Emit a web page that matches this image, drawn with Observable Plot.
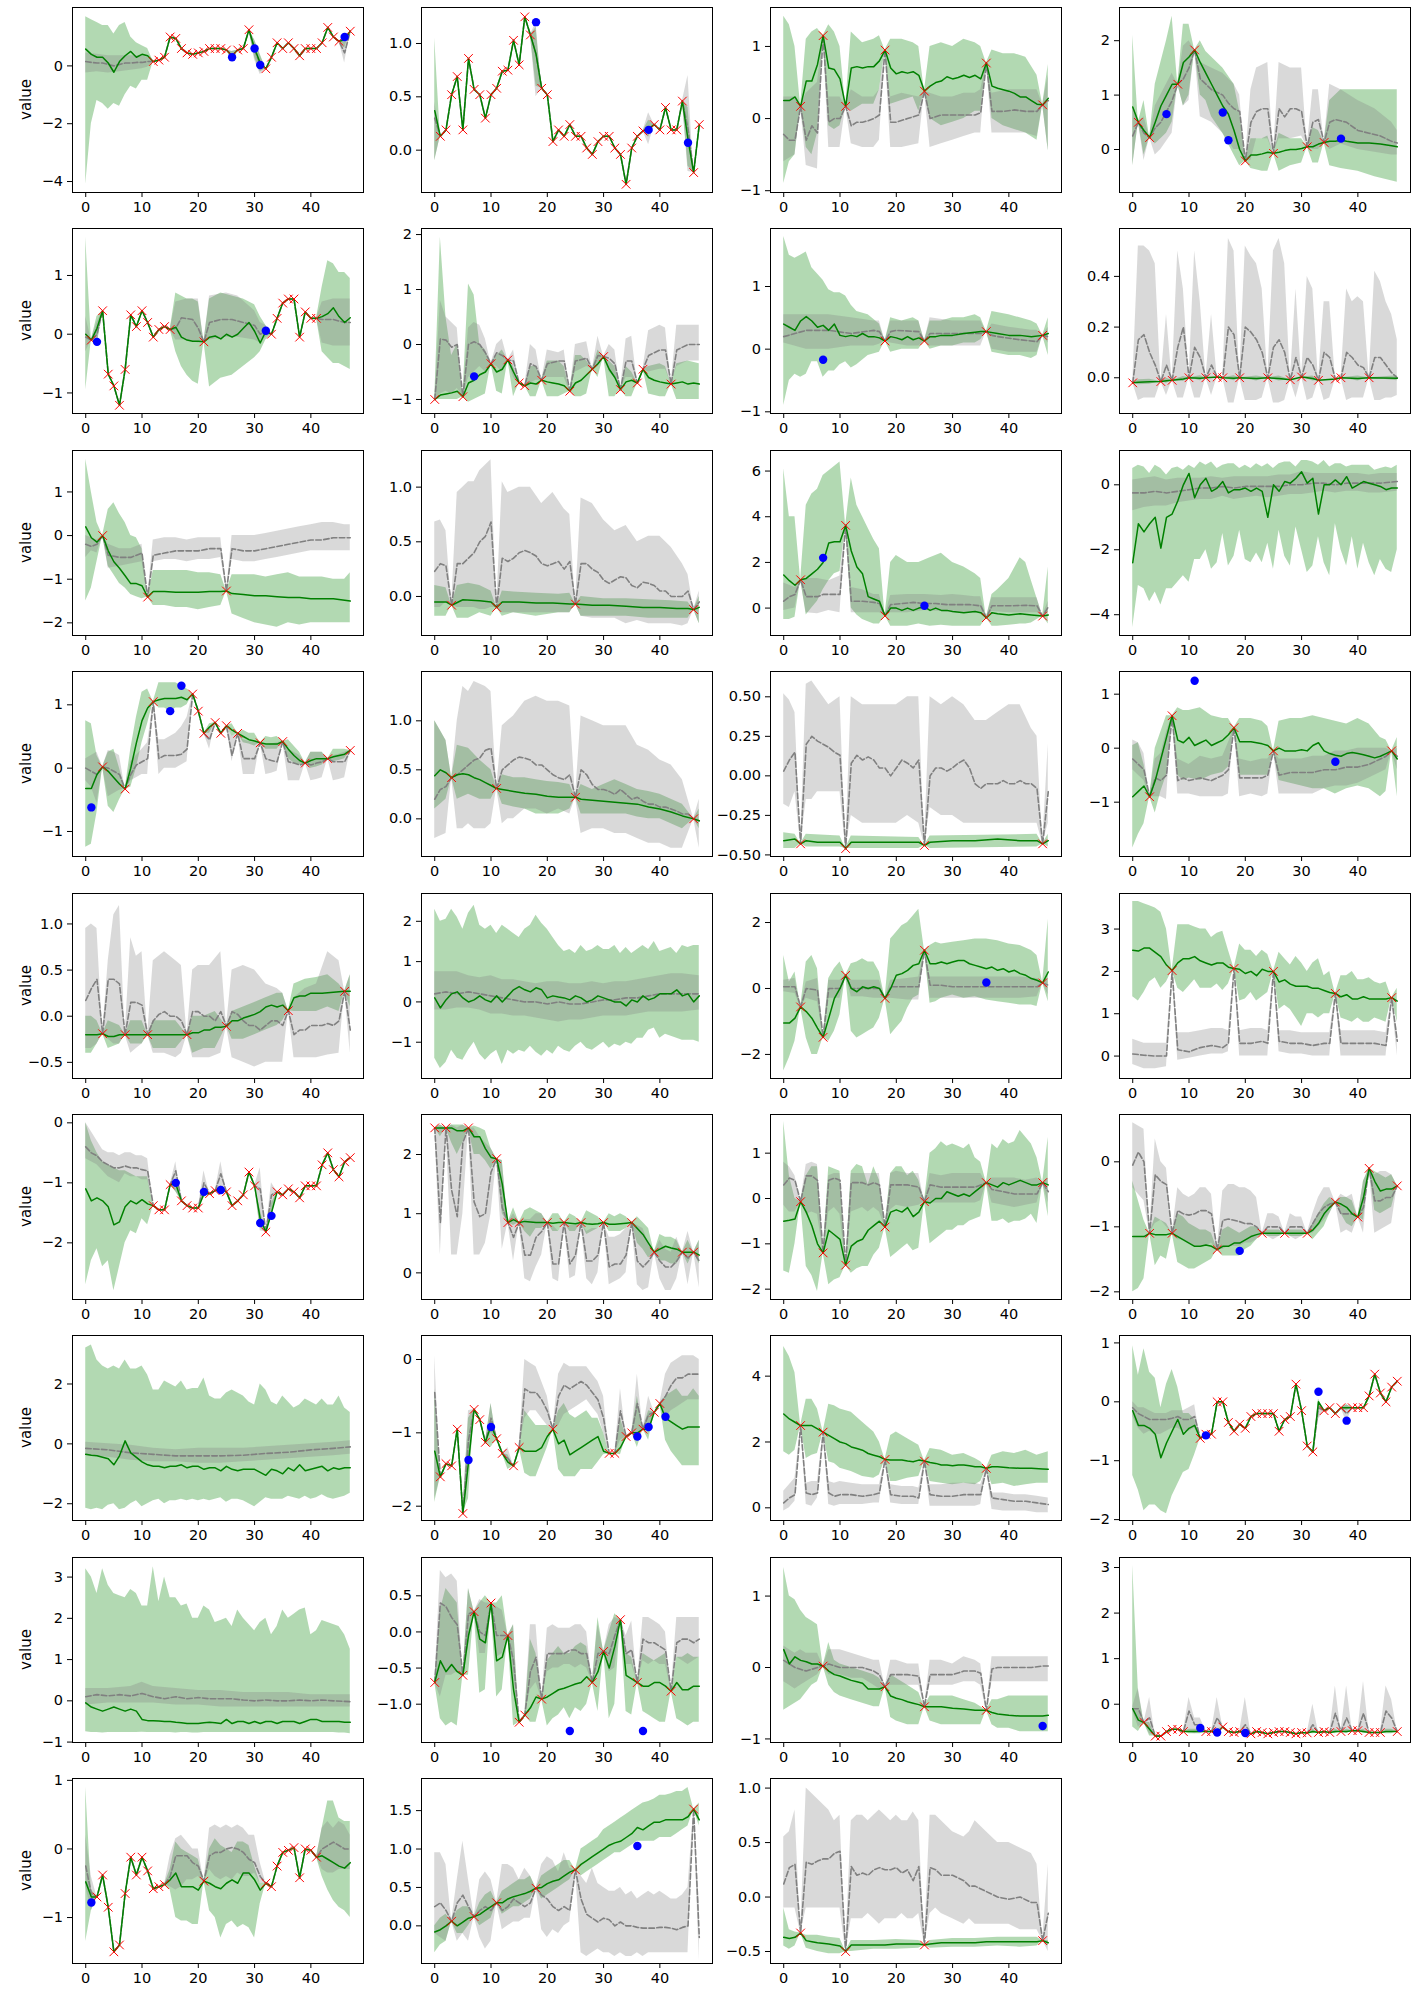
<!DOCTYPE html>
<html><head><meta charset="utf-8">
<script src="https://cdn.jsdelivr.net/npm/d3@7"></script>
<script src="https://cdn.jsdelivr.net/npm/@observablehq/plot@0.6"></script>
<style>
body{margin:0;background:#fff;}
#fig{position:relative;width:1418px;height:1993px;background:#fff;}
</style>
</head><body><div id="fig"></div>
<script>
// ---------- DATA ----------
const yDomains = [
 [-4.38,2.02],[-0.397,1.3375],[-1.025,1.54],[-0.79,2.61],
 [-1.35,1.80],[-1.255,2.11],[-1.027,1.926],[-0.141,0.589],
 [-2.29,1.95],[-0.357,1.335],[-1.2,6.9],[-4.64,1.056],
 [-1.395,1.526],[-0.384,1.503],[-0.51,0.66],[-2.006,1.42],
 [-0.675,1.33],[-1.90,2.69],[-2.73,2.88],[-0.53,3.84],
 [-2.944,0.139],[-0.45,2.676],[-2.228,1.853],[-2.118,0.728],
 [-2.56,3.62],[-2.195,0.327],[-0.385,5.235],[-2.015,1.126],
 [-1.01,3.475],[-1.53,1.03],[-1.05,1.54],[-0.84,3.22],
 [-1.67,1.027],[-0.49,1.918],[-0.61,1.088]
];
const yTicks = [
 [-4,-2,0],[0,0.5,1],[-1,0,1],[0,1,2],
 [-1,0,1],[-1,0,1,2],[-1,0,1],[0,0.2,0.4],
 [-2,-1,0,1],[0,0.5,1],[0,2,4,6],[-4,-2,0],
 [-1,0,1],[0,0.5,1],[-0.5,-0.25,0,0.25,0.5],[-1,0,1],
 [-0.5,0,0.5,1],[-1,0,1,2],[-2,0,2],[0,1,2,3],
 [-2,-1,0],[0,1,2],[-2,-1,0,1],[-2,-1,0],
 [-2,0,2],[-2,-1,0],[0,2,4],[-2,-1,0,1],
 [-1,0,1,2,3],[-1,-0.5,0,0.5],[-1,0,1],[0,1,2,3],
 [-1,0,1],[0,0.5,1,1.5],[-0.5,0,0.5,1]
];
const yDecimals = [0,1,0,0, 0,0,0,1, 0,1,0,0, 0,1,2,0, 1,0,0,0, 0,0,0,0, 0,0,0,0, 0,1,0,0, 0,1,1];

// observed points (red x)
const observed = [
 [[12,0.15],[13,0.2],[14,0.3],[15,1.0],[16,0.95],[17,0.6],[18,0.45],[19,0.4],[20,0.45],[21,0.5],[22,0.6],[23,0.6],[24,0.6],[25,0.55],[27,0.55],[28,0.6],[29,1.25],[32,-0.1],[33,0.3],[34,0.8],[35,0.6],[36,0.8],[37,0.6],[38,0.35],[39,0.6],[40,0.6],[41,0.6],[42,0.8],[43,1.33],[44,1.0],[45,0.85],[47,1.2]],
 [[1,0.13],[2,0.19],[3,0.52],[4,0.69],[5,0.19],[6,0.86],[7,0.57],[8,0.52],[9,0.3],[10,0.52],[11,0.58],[12,0.74],[13,0.75],[14,1.03],[15,0.8],[16,1.25],[17,1.08],[19,0.58],[20,0.52],[21,0.08],[22,0.19],[23,0.13],[24,0.24],[25,0.13],[26,0.13],[27,0.02],[28,-0.04],[29,0.08],[30,0.13],[31,0.13],[32,0.02],[33,-0.04],[34,-0.32],[35,0.02],[36,0.13],[37,0.18],[39,0.24],[40,0.19],[41,0.4],[42,0.19],[43,0.19],[44,0.46],[46,-0.21],[47,0.24]],
 [[3,0.17],[7,1.15],[11,0.17],[18,0.95],[25,0.38],[36,0.77],[46,0.19]],
 [[1,0.5],[3,0.22],[8,1.2],[11,1.83],[20,-0.21],[25,-0.07],[31,0.05],[34,0.13]],
 [[1,-0.1],[3,0.4],[4,-0.68],[5,-0.88],[6,-1.21],[7,-0.6],[8,0.33],[9,0.13],[10,0.4],[11,0.2],[12,-0.05],[13,0.08],[14,0.13],[15,0.08],[21,-0.13],[33,0.0],[34,0.27],[35,0.53],[36,0.6],[37,0.6],[38,-0.05],[39,0.38],[40,0.27],[41,0.27]],
 [[0,-1.0],[5,-0.95],[10,-0.35],[13,-0.28],[15,-0.7],[16,-0.75],[19,-0.65],[24,-0.85],[28,-0.45],[30,-0.22],[33,-0.82],[36,-0.7],[37,-0.45],[42,-0.72]],
 [[18,0.13],[25,0.13],[36,0.28],[46,0.22]],
 [[0,-0.02],[5,-0.015],[7,-0.01],[10,0.0],[13,0.0],[15,0.003],[16,0.0],[19,0.0],[24,0.0],[28,-0.008],[30,0.003],[33,-0.01],[36,-0.005],[37,0.0],[42,0.0]],
 [[3,0.0],[11,-1.41],[25,-1.27]],
 [[3,-0.08],[11,-0.1],[25,-0.07],[46,-0.12]],
 [[3,1.24],[11,3.62],[18,-0.34],[36,-0.42],[46,-0.35]],
 [],
 [[3,0.02],[7,-0.33],[12,1.05],[19,1.17],[20,0.9],[21,0.55],[23,0.72],[24,0.55],[25,0.67],[27,0.55],[31,0.4],[35,0.42],[39,0.08],[43,0.15],[47,0.28]],
 [[3,0.42],[11,0.31],[25,0.22],[46,0.0]],
 [[3,-0.43],[11,-0.46],[25,-0.44],[46,-0.43]],
 [[3,-0.9],[7,0.6],[18,0.38],[25,-0.05],[46,-0.05]],
 [[3,-0.19],[7,-0.2],[11,-0.2],[18,-0.2],[25,-0.11],[36,0.06],[46,0.27]],
 [],
 [[3,-0.56],[7,-1.48],[11,0.4],[18,-0.3],[25,1.16],[46,0.17]],
 [[7,2.02],[18,2.07],[25,2.0],[36,1.48],[46,1.38]],
 [[12,-1.38],[13,-1.45],[14,-1.45],[15,-1.03],[17,-1.3],[18,-1.38],[19,-1.42],[20,-1.42],[22,-1.18],[23,-1.13],[25,-1.15],[26,-1.38],[27,-1.3],[28,-1.2],[29,-0.82],[30,-1.05],[32,-1.82],[34,-1.15],[35,-1.2],[36,-1.1],[37,-1.15],[38,-1.25],[39,-1.05],[40,-1.05],[41,-1.05],[42,-0.7],[43,-0.5],[44,-0.78],[45,-0.9],[46,-0.65],[47,-0.58]],
 [[0,2.45],[2,2.45],[6,2.45],[11,1.93],[13,0.85],[15,0.85],[20,0.85],[23,0.85],[26,0.85],[30,0.85],[35,0.85],[39,0.35],[44,0.35],[46,0.35]],
 [[3,-0.07],[7,-1.2],[11,-1.47],[18,-0.63],[25,-0.07],[36,0.35],[46,0.35]],
 [[3,-1.1],[7,-1.1],[15,-1.35],[23,-1.1],[27,-1.1],[31,-1.1],[36,-0.62],[40,-0.85],[42,-0.1],[47,-0.37]],
 [],
 [[1,-1.6],[2,-1.42],[3,-1.45],[4,-0.95],[5,-2.1],[7,-0.68],[8,-0.82],[9,-1.13],[11,-1.08],[12,-1.28],[14,-1.45],[15,-1.2],[21,-0.95],[31,-1.28],[32,-1.28],[34,-1.05],[35,-1.0],[37,-0.95],[39,-0.72],[40,-0.6]],
 [[3,2.5],[7,2.3],[18,1.47],[25,1.42],[36,1.2]],
 [[12,-0.62],[13,-0.55],[14,-0.55],[15,0.0],[16,0.0],[17,-0.35],[18,-0.5],[19,-0.38],[20,-0.45],[21,-0.25],[22,-0.2],[23,-0.2],[24,-0.2],[25,-0.2],[26,-0.5],[27,-0.3],[28,-0.25],[29,0.3],[30,-0.15],[31,-0.75],[32,-0.85],[34,-0.15],[35,-0.1],[36,-0.2],[37,-0.1],[39,-0.1],[40,-0.1],[41,-0.1],[42,0.1],[43,0.47],[44,0.15],[45,0.0],[46,0.25],[47,0.35]],
 [],
 [[0,-0.7],[5,-0.6],[7,0.28],[10,0.4],[13,-0.05],[15,-1.25],[16,-1.15],[19,-0.93],[28,-0.7],[30,-0.27],[33,0.17],[36,-0.7],[42,-0.82]],
 [[7,0.02],[18,-0.27],[25,-0.55],[36,-0.6]],
 [[2,-0.4],[4,-0.7],[5,-0.7],[6,-0.6],[7,-0.55],[8,-0.55],[9,-0.6],[13,-0.6],[14,-0.6],[16,-0.5],[17,-0.6],[18,-0.62],[19,-0.6],[21,-0.65],[22,-0.6],[23,-0.62],[24,-0.65],[25,-0.62],[26,-0.6],[27,-0.6],[28,-0.62],[29,-0.65],[30,-0.62],[31,-0.63],[33,-0.62],[34,-0.6],[35,-0.62],[37,-0.6],[39,-0.58],[40,-0.58],[42,-0.62],[43,-0.62],[44,-0.62],[47,-0.6]],
 [[2,-0.7],[3,-0.38],[4,-0.85],[5,-1.5],[6,-1.4],[7,-0.65],[8,-0.12],[9,-0.38],[10,-0.12],[11,-0.32],[12,-0.58],[13,-0.55],[14,-0.52],[21,-0.47],[32,-0.5],[33,-0.55],[34,-0.25],[35,-0.05],[36,-0.02],[37,0.02],[38,-0.42],[39,0.0],[40,-0.02],[41,-0.12]],
 [[3,0.06],[7,0.12],[11,0.3],[18,0.49],[25,0.73],[46,1.52]],
 [[3,-0.33],[11,-0.5],[25,-0.44],[46,-0.4]]
];

// held-out points (blue dots)
const heldOut = [
 [[26,0.3],[30,0.6],[31,0.03],[46,1.0]],[[18,1.2],[38,0.19],[45,0.07]],[],[[6,0.65],[16,0.68],[17,0.17],[37,0.2]],
 [[2,-0.13],[32,0.06]],[[7,-0.58]],[[7,-0.17]],[],
 [],[],[[7,2.2],[25,0.1]],[],
 [[1,-0.62],[15,0.9],[17,1.3]],[],[],[[11,1.25],[36,-0.25]],
 [],[],[[36,0.18]],[],
 [[16,-1.0],[21,-1.15],[24,-1.12],[31,-1.67],[33,-1.55]],[],[],[[19,-1.37]],
 [],[[6,-1.37],[10,-0.92],[36,-1.05],[38,-0.92],[41,-0.78]],[],[[13,-0.57],[33,0.17],[38,-0.32]],
 [],[[24,-1.37],[37,-1.37]],[[46,-0.82]],[[12,-0.52],[15,-0.62],[20,-0.63]],
 [[1,-0.78]],[[36,1.04]],[]
];

// green median (solid line) at unobserved steps; a plain list means one value per step 0..47
const greenMedian = [
 [[0,0.58],[1,0.4],[2,0.3],[3,0.3],[4,0.1],[5,-0.22],[6,0.15],[7,0.35],[8,0.5],[9,0.3],[10,0.4],[11,0.35],[26,0.35],[30,0.6],[31,0.1],[46,0.9]],
 [[0,0.37],[18,0.9],[38,0.2],[45,0.1]],
 [[0,0.25],[1,0.25],[2,0.3],[4,0.52],[5,0.52],[6,0.75],[8,0.7],[9,0.68],[10,0.55],[12,0.7],[13,0.72],[14,0.7],[15,0.72],[16,0.72],[17,0.8],[19,0.7],[20,0.62],[21,0.65],[22,0.63],[23,0.65],[24,0.6],[26,0.45],[27,0.5],[28,0.52],[29,0.58],[30,0.55],[31,0.57],[32,0.6],[33,0.57],[34,0.6],[35,0.55],[37,0.45],[38,0.42],[39,0.4],[40,0.38],[41,0.35],[42,0.3],[43,0.3],[44,0.25],[45,0.2],[47,0.28]],
 [[0,0.78],[2,0.35],[4,0.5],[5,0.8],[6,1.0],[7,1.2],[9,1.6],[10,1.7],[12,1.6],[13,1.4],[14,1.2],[15,1.0],[16,0.8],[17,0.65],[18,0.35],[19,0.0],[21,-0.1],[22,-0.1],[23,-0.08],[24,-0.05],[26,-0.05],[27,-0.02],[28,0.0],[29,0.0],[30,0.02],[32,0.05],[33,0.1],[35,0.15],[36,0.15],[37,0.17],[38,0.15],[40,0.12],[42,0.12],[44,0.1],[46,0.07],[47,0.05]],
 [[0,0.0],[2,0.1],[16,0.12],[17,-0.05],[18,-0.1],[19,-0.12],[20,-0.12],[22,-0.05],[23,-0.03],[24,-0.08],[25,0.0],[26,-0.05],[27,0.0],[28,0.1],[29,0.2],[30,0.05],[31,-0.15],[32,0.05],[42,0.3],[43,0.35],[44,0.45],[45,0.3],[46,0.2],[47,0.28]],
 [[1,-0.92],[2,-0.9],[3,-0.88],[4,-0.85],[6,-0.7],[7,-0.65],[8,-0.55],[9,-0.5],[11,-0.5],[12,-0.45],[14,-0.5],[17,-0.7],[18,-0.72],[20,-0.68],[21,-0.7],[22,-0.72],[23,-0.75],[25,-0.7],[26,-0.65],[27,-0.55],[29,-0.35],[31,-0.45],[32,-0.6],[34,-0.68],[35,-0.65],[38,-0.6],[39,-0.65],[40,-0.68],[41,-0.7],[43,-0.7],[44,-0.68],[45,-0.72],[46,-0.7],[47,-0.72]],
 [[0,0.4],[1,0.35],[2,0.3],[3,0.45],[4,0.52],[5,0.45],[6,0.35],[7,0.38],[8,0.3],[9,0.4],[10,0.22],[11,0.2],[12,0.22],[13,0.2],[14,0.25],[15,0.2],[16,0.2],[17,0.18],[19,0.2],[20,0.18],[21,0.15],[22,0.2],[23,0.15],[24,0.18],[26,0.2],[27,0.2],[28,0.22],[30,0.22],[32,0.25],[34,0.27],[35,0.28],[38,0.25],[40,0.22],[42,0.22],[44,0.2],[47,0.25]],
 [[1,-0.018],[3,-0.016],[6,-0.012],[9,-0.005],[12,-0.002],[18,-0.002],[22,-0.003],[26,-0.003],[32,-0.003],[40,-0.003],[47,-0.002]],
 [[0,0.2],[1,-0.05],[2,-0.15],[4,-0.35],[5,-0.6],[6,-0.75],[7,-0.92],[8,-1.1],[9,-1.1],[10,-1.15],[12,-1.28],[14,-1.28],[16,-1.3],[18,-1.3],[20,-1.3],[22,-1.28],[24,-1.28],[26,-1.33],[28,-1.35],[30,-1.38],[32,-1.38],[34,-1.4],[36,-1.42],[38,-1.42],[40,-1.45],[42,-1.45],[44,-1.45],[46,-1.48],[47,-1.5]],
 [[0,-0.05],[2,-0.05],[5,-0.03],[8,-0.04],[10,-0.05],[12,-0.05],[15,-0.05],[18,-0.06],[21,-0.06],[24,-0.07],[28,-0.08],[31,-0.08],[34,-0.09],[37,-0.1],[40,-0.1],[43,-0.11],[45,-0.11],[47,-0.1]],
 [[0,1.45],[1,1.2],[2,1.0],[4,1.3],[5,1.5],[6,1.7],[7,2.0],[8,2.85],[9,2.9],[10,2.9],[12,2.5],[13,1.8],[14,1.5],[15,0.5],[16,0.4],[17,0.3],[19,0.0],[20,0.0],[21,-0.1],[22,0.0],[23,-0.1],[24,0.0],[25,0.05],[26,-0.1],[27,0.0],[28,-0.1],[29,-0.1],[30,-0.15],[32,-0.2],[34,-0.15],[35,-0.2],[37,-0.2],[38,-0.25],[40,-0.3],[42,-0.25],[44,-0.3],[47,-0.3]],
 [-2.4,-1.2,-1.45,-1.2,-1.0,-1.95,-1.0,-0.9,-0.5,0.0,0.35,-0.4,0.0,0.2,-0.2,-0.1,0.1,-0.25,-0.15,-0.15,-0.1,-0.2,-0.1,-0.2,-1.0,0.0,-0.2,0.1,0.05,0.2,0.4,0.05,0.2,-0.9,0.0,0.0,0.15,0.0,0.25,-0.1,0.0,0.1,0.05,0.0,-0.05,-0.15,-0.1,-0.1],
 [[0,-0.32],[1,-0.32],[2,-0.1],[4,-0.05],[5,-0.15],[6,-0.25],[8,0.0],[9,0.4],[10,0.75],[11,0.95],[13,1.08],[14,1.1],[15,1.1],[16,1.1],[17,1.12],[18,1.08],[22,0.65],[26,0.6],[28,0.5],[29,0.45],[30,0.43],[32,0.38],[33,0.38],[34,0.38],[36,0.3],[37,0.2],[38,0.12],[40,0.12],[41,0.15],[42,0.15],[44,0.18],[45,0.2],[46,0.22]],
 [[0,0.44],[1,0.5],[2,0.47],[4,0.45],[5,0.46],[6,0.45],[7,0.42],[8,0.4],[9,0.37],[10,0.34],[12,0.3],[14,0.28],[16,0.26],[18,0.25],[20,0.23],[22,0.22],[24,0.22],[26,0.2],[28,0.19],[30,0.18],[32,0.17],[34,0.16],[36,0.15],[38,0.12],[40,0.1],[42,0.07],[44,0.03],[47,-0.02]],
 [[0,-0.41],[2,-0.4],[4,-0.41],[6,-0.42],[8,-0.42],[10,-0.42],[12,-0.42],[16,-0.42],[20,-0.42],[24,-0.42],[26,-0.42],[30,-0.41],[34,-0.41],[38,-0.4],[42,-0.41],[45,-0.41],[47,-0.41]],
 [[0,-0.9],[1,-0.8],[2,-0.7],[4,-0.6],[5,-0.2],[6,0.2],[8,0.15],[9,0.1],[10,0.2],[11,0.05],[12,0.1],[13,0.15],[14,0.05],[15,0.1],[16,0.15],[17,0.25],[19,0.12],[20,0.12],[21,0.12],[22,0.1],[23,0.08],[24,0.05],[26,0.0],[27,-0.05],[28,-0.05],[29,-0.05],[30,-0.03],[31,-0.05],[32,0.05],[33,0.1],[34,-0.05],[35,-0.1],[36,-0.13],[37,-0.15],[38,-0.1],[39,-0.08],[40,-0.1],[41,-0.12],[42,-0.15],[43,-0.18],[44,-0.15],[45,-0.1],[47,-0.2]],
 [[0,-0.2],[2,-0.2],[4,-0.22],[5,-0.22],[6,-0.2],[8,-0.2],[10,-0.2],[12,-0.2],[14,-0.2],[16,-0.2],[19,-0.18],[20,-0.18],[21,-0.15],[22,-0.15],[23,-0.12],[24,-0.12],[26,-0.05],[27,-0.05],[28,-0.02],[29,0.0],[30,0.02],[31,0.05],[32,0.1],[33,0.12],[34,0.1],[35,0.12],[37,0.2],[38,0.22],[39,0.22],[40,0.25],[42,0.25],[44,0.26],[47,0.27]],
 [0.1,-0.15,0.05,0.2,0.25,0.1,0.0,0.05,0.15,0.05,0.0,0.15,0.0,0.15,0.3,0.38,0.3,0.25,0.35,0.3,0.1,0.15,0.12,0.1,0.05,0.15,0.1,0.0,0.05,0.15,0.1,0.05,0.0,0.0,-0.1,0.05,0.0,0.15,0.05,0.1,0.2,0.2,0.2,0.3,0.15,0.2,0.0,0.15],
 [[0,-1.05],[1,-1.05],[2,-0.9],[4,-0.7],[5,-0.9],[6,-1.2],[8,-0.9],[9,-0.3],[10,0.0],[12,0.0],[13,-0.1],[14,0.05],[15,0.0],[16,0.05],[17,0.0],[19,0.0],[20,0.4],[21,0.45],[22,0.55],[23,0.7],[24,0.75],[26,0.75],[27,0.75],[28,0.8],[29,0.75],[30,0.8],[31,0.85],[32,0.85],[33,0.75],[34,0.7],[35,0.65],[36,0.6],[37,0.65],[38,0.55],[39,0.6],[40,0.5],[41,0.55],[42,0.45],[43,0.4],[44,0.3],[45,0.25],[47,0.5]],
 [[0,2.5],[1,2.48],[2,2.55],[3,2.55],[4,2.45],[5,2.35],[6,2.15],[8,2.2],[9,2.3],[10,2.3],[11,2.35],[12,2.25],[13,2.2],[14,2.15],[15,2.2],[16,2.2],[17,2.1],[19,2.05],[20,1.95],[21,2.0],[22,1.9],[23,2.05],[24,2.0],[26,1.75],[27,1.8],[28,1.7],[29,1.65],[30,1.65],[31,1.65],[32,1.6],[33,1.6],[34,1.55],[35,1.5],[37,1.4],[38,1.45],[39,1.35],[40,1.35],[41,1.4],[42,1.35],[43,1.35],[44,1.35],[45,1.35],[47,1.3]],
 [[0,-1.1],[1,-1.3],[2,-1.25],[3,-1.3],[4,-1.4],[5,-1.7],[6,-1.65],[7,-1.4],[8,-1.3],[9,-1.35],[10,-1.28],[11,-1.35],[16,-1.02],[21,-1.18],[24,-1.1],[31,-1.6],[33,-1.5]],
 [[1,2.45],[3,2.45],[4,2.4],[5,2.4],[7,2.3],[8,2.3],[9,2.1],[10,1.95],[12,1.5],[14,0.9],[16,0.87],[17,0.86],[18,0.85],[19,0.85],[21,0.84],[22,0.85],[24,0.84],[25,0.83],[27,0.83],[28,0.82],[29,0.83],[31,0.82],[32,0.82],[33,0.83],[34,0.84],[36,0.75],[37,0.65],[38,0.5],[40,0.4],[41,0.45],[42,0.42],[43,0.4],[45,0.35],[47,0.3]],
 [[0,-0.5],[1,-0.48],[2,-0.45],[4,-0.3],[5,-0.6],[6,-1.0],[8,-0.7],[9,-0.8],[10,-0.9],[12,-1.05],[13,-0.95],[14,-0.9],[15,-0.7],[16,-0.6],[17,-0.5],[19,-0.3],[20,-0.25],[21,-0.3],[22,-0.2],[23,-0.4],[24,-0.3],[26,-0.1],[27,0.0],[28,0.0],[29,0.15],[30,0.1],[31,0.05],[32,0.1],[33,0.05],[34,0.15],[35,0.25],[37,0.3],[38,0.25],[39,0.35],[40,0.3],[41,0.35],[42,0.4],[43,0.35],[44,0.3],[45,0.3],[47,0.3]],
 [[0,-1.15],[1,-1.15],[2,-1.15],[4,-1.12],[5,-1.12],[6,-1.12],[8,-1.15],[9,-1.2],[10,-1.25],[11,-1.3],[12,-1.3],[13,-1.28],[14,-1.3],[16,-1.3],[17,-1.3],[18,-1.25],[19,-1.25],[20,-1.2],[21,-1.15],[22,-1.12],[24,-1.1],[25,-1.1],[26,-1.1],[28,-1.1],[29,-1.1],[30,-1.1],[32,-1.05],[33,-0.95],[34,-0.8],[35,-0.7],[37,-0.65],[38,-0.7],[39,-0.8],[41,-0.55],[43,-0.3],[44,-0.45],[45,-0.42],[46,-0.42]],
 [-0.35,-0.38,-0.4,-0.45,-0.5,-0.7,-0.4,0.1,-0.3,-0.45,-0.6,-0.7,-0.75,-0.75,-0.8,-0.75,-0.75,-0.7,-0.8,-0.75,-0.75,-0.85,-0.8,-0.8,-0.9,-0.75,-0.85,-0.9,-0.85,-0.85,-0.85,-0.95,-1.05,-0.85,-0.9,-1.0,-0.8,-0.9,-0.7,-0.9,-0.85,-0.8,-0.75,-0.9,-0.8,-0.85,-0.8,-0.8],
 [[0,-1.25],[6,-1.4],[10,-0.9],[13,-1.4],[16,-1.25],[17,-1.25],[18,-1.25],[19,-1.2],[20,-1.05],[22,-1.15],[23,-1.1],[24,-1.3],[25,-1.25],[26,-1.2],[27,-1.15],[28,-1.1],[29,-1.05],[30,-1.25],[33,-1.2],[36,-1.0],[38,-0.95],[41,-0.8],[42,-0.85],[43,-0.9],[44,-0.95],[45,-0.92],[46,-0.92],[47,-0.92]],
 [[0,2.85],[1,2.7],[2,2.6],[4,2.5],[5,2.5],[6,2.4],[8,2.2],[9,2.1],[10,2.0],[11,1.95],[12,1.85],[13,1.8],[14,1.75],[15,1.65],[16,1.6],[17,1.55],[19,1.45],[20,1.45],[21,1.45],[22,1.42],[23,1.4],[24,1.45],[26,1.38],[27,1.35],[28,1.3],[29,1.3],[30,1.28],[31,1.3],[32,1.3],[33,1.28],[34,1.25],[35,1.25],[37,1.25],[38,1.25],[40,1.22],[42,1.2],[44,1.2],[46,1.18],[47,1.17]],
 [[0,-0.15],[1,-0.4],[2,-0.4],[3,-0.45],[4,-0.55],[5,-0.95],[6,-0.7],[7,-0.5],[8,-0.3],[9,-0.55],[10,-0.45],[11,-0.4],[33,0.0],[38,-0.1]],
 [-0.05,-0.15,-0.2,-0.25,-0.2,-0.15,-0.2,-0.25,-0.2,-0.25,-0.45,-0.48,-0.48,-0.49,-0.5,-0.5,-0.52,-0.53,-0.55,-0.55,-0.55,-0.53,-0.52,-0.53,-0.55,-0.45,-0.55,-0.5,-0.5,-0.55,-0.5,-0.55,-0.5,-0.5,-0.55,-0.5,-0.5,-0.5,-0.55,-0.5,-0.45,-0.45,-0.5,-0.5,-0.5,-0.5,-0.52,-0.52],
 [[1,-0.4],[2,-0.55],[3,-0.45],[4,-0.55],[6,-0.05],[8,-0.1],[9,-0.15],[11,-0.4],[12,-0.35],[14,-0.8],[17,-1.05],[18,-0.9],[20,-0.9],[21,-0.85],[22,-0.8],[23,-0.78],[24,-0.75],[25,-0.72],[26,-0.7],[27,-0.62],[29,-0.55],[31,-0.5],[32,-0.2],[34,-0.6],[35,-0.65],[37,-0.75],[38,-0.75],[39,-0.7],[40,-0.7],[41,-0.75],[43,-0.7],[44,-0.8],[45,-0.8],[46,-0.75],[47,-0.75]],
 [[0,0.25],[1,0.05],[2,0.15],[3,0.1],[4,0.08],[5,0.05],[6,0.05],[8,-0.05],[9,-0.1],[10,-0.12],[11,-0.15],[12,-0.18],[13,-0.2],[14,-0.22],[15,-0.3],[16,-0.3],[17,-0.3],[19,-0.4],[20,-0.43],[21,-0.45],[22,-0.48],[23,-0.5],[24,-0.52],[26,-0.55],[28,-0.55],[30,-0.57],[32,-0.58],[34,-0.6],[35,-0.6],[37,-0.63],[38,-0.65],[40,-0.67],[42,-0.68],[44,-0.68],[46,-0.68],[47,-0.67]],
 [[0,-0.1],[1,-0.35],[3,-0.55],[10,-0.6],[11,-0.6],[12,-0.6],[15,-0.62],[20,-0.62],[32,-0.6],[36,-0.6],[38,-0.6],[41,-0.6],[45,-0.6],[46,-0.6]],
 [[0,-0.48],[1,-0.7],[15,-0.45],[16,-0.35],[17,-0.55],[18,-0.55],[19,-0.55],[20,-0.6],[22,-0.5],[23,-0.55],[24,-0.58],[25,-0.5],[26,-0.45],[27,-0.5],[28,-0.35],[29,-0.35],[30,-0.45],[31,-0.6],[42,-0.1],[43,-0.15],[44,-0.2],[45,-0.25],[46,-0.28],[47,-0.2]],
 [[0,-0.08],[1,-0.05],[2,0.0],[4,0.0],[5,0.05],[6,0.1],[8,0.15],[9,0.2],[10,0.25],[12,0.3],[13,0.35],[14,0.38],[15,0.4],[16,0.42],[17,0.45],[19,0.5],[20,0.55],[21,0.58],[22,0.6],[23,0.65],[24,0.7],[26,0.8],[27,0.85],[28,0.9],[29,0.95],[30,1.0],[31,1.05],[32,1.08],[33,1.1],[34,1.15],[35,1.2],[36,1.28],[37,1.25],[38,1.3],[39,1.35],[40,1.35],[41,1.38],[42,1.38],[43,1.38],[44,1.38],[45,1.42],[47,1.38]],
 [[0,-0.37],[1,-0.38],[2,-0.37],[4,-0.4],[5,-0.41],[6,-0.42],[8,-0.43],[10,-0.45],[12,-0.44],[14,-0.44],[16,-0.44],[18,-0.44],[20,-0.43],[22,-0.43],[24,-0.43],[26,-0.43],[28,-0.42],[30,-0.42],[32,-0.42],[34,-0.42],[36,-0.41],[38,-0.41],[40,-0.41],[42,-0.41],[44,-0.41],[45,-0.41],[47,-0.42]]
];

// green interval [step, low, high]
const greenBand = [
 [[0,-4.1,1.7],[1,-2.0,1.6],[2,-1.2,1.5],[3,-1.3,1.4],[4,-1.5,1.4],[5,-1.3,1.1],[6,-1.4,1.4],[7,-1.0,1.5],[8,-0.7,1.0],[9,-0.8,0.8],[10,-0.5,0.7],[11,-0.5,0.6],[26,0.2,0.5],[30,0.3,0.9],[31,-0.2,0.4],[46,0.6,1.0]],
 [[0,-0.1,1.05],[18,0.6,1.15],[38,0.12,0.28],[45,-0.15,0.4]],
 [[0,-0.9,1.42],[1,-0.6,1.3],[2,-0.5,1.0],[4,-0.4,1.1],[5,-0.5,1.2],[6,-0.2,1.25],[8,-0.1,1.3],[9,-0.15,1.2],[10,-0.1,1.0],[12,0.1,1.2],[14,0.2,1.05],[16,0.2,1.1],[17,0.4,1.15],[19,0.2,1.1],[21,0.25,1.1],[23,0.3,1.05],[24,0.1,1.0],[26,0.0,1.0],[28,-0.1,1.05],[30,-0.05,1.0],[32,0.0,1.1],[34,0.1,1.05],[35,0.1,1.0],[37,0.0,0.95],[39,-0.1,0.9],[41,-0.15,0.9],[43,-0.2,0.85],[45,-0.3,0.6],[47,-0.45,0.75]],
 [[0,-0.3,2.1],[2,-0.1,0.9],[4,0.1,1.2],[5,0.2,1.6],[6,0.3,2.0],[7,0.5,2.45],[9,0.8,2.3],[10,1.0,2.3],[12,1.0,2.0],[13,0.9,1.8],[14,0.6,1.7],[16,0.3,1.5],[18,-0.1,1.2],[19,-0.3,0.7],[21,-0.35,0.2],[23,-0.4,0.2],[24,-0.4,0.25],[26,-0.4,0.3],[28,-0.3,0.2],[30,-0.25,0.2],[32,-0.25,0.4],[33,-0.25,0.35],[35,-0.3,0.9],[37,-0.35,1.1],[40,-0.4,1.1],[43,-0.5,1.1],[45,-0.55,1.1],[47,-0.6,1.1]],
 [[0,-0.95,1.65],[2,-0.2,0.3],[16,-0.3,0.7],[17,-0.55,0.65],[18,-0.7,0.6],[19,-0.8,0.6],[20,-0.85,0.55],[22,-0.9,0.6],[24,-0.75,0.7],[26,-0.7,0.65],[28,-0.55,0.6],[30,-0.4,0.5],[31,-0.3,0.3],[32,-0.1,0.15],[42,-0.3,0.8],[43,-0.4,1.25],[44,-0.5,1.2],[45,-0.5,1.05],[46,-0.55,1.05],[47,-0.6,0.95]],
 [[1,-1.0,1.95],[2,-1.0,0.5],[3,-1.0,-0.2],[4,-1.0,0.0],[6,-1.05,1.1],[7,-1.0,0.9],[8,-0.95,0.0],[9,-0.9,-0.1],[11,-0.85,-0.2],[12,-0.9,-0.1],[14,-0.95,-0.4],[17,-0.95,-0.4],[18,-0.95,-0.4],[20,-0.95,-0.3],[22,-0.95,-0.3],[23,-0.9,-0.4],[25,-0.95,-0.2],[26,-0.95,-0.2],[27,-0.9,-0.3],[29,-0.6,-0.1],[31,-0.95,-0.3],[32,-0.95,-0.4],[34,-0.95,-0.4],[35,-0.95,-0.5],[38,-0.9,-0.4],[40,-0.95,-0.35],[41,-0.95,-0.4],[43,-1.0,-0.35],[45,-1.0,-0.3],[47,-1.0,-0.35]],
 [[0,-0.9,1.8],[1,-0.5,1.5],[2,-0.4,1.45],[3,-0.45,1.5],[4,-0.4,1.55],[5,-0.2,1.3],[6,-0.2,1.2],[7,-0.45,1.1],[8,-0.35,0.95],[9,-0.35,0.9],[10,-0.25,0.9],[11,-0.2,0.85],[12,-0.3,0.7],[13,-0.25,0.6],[15,-0.1,0.55],[17,-0.05,0.4],[19,-0.05,0.5],[21,0.0,0.45],[23,0.0,0.5],[24,0.0,0.45],[26,0.0,0.45],[28,0.05,0.45],[30,0.05,0.5],[32,0.1,0.5],[34,0.1,0.55],[35,0.15,0.5],[37,-0.05,0.6],[40,-0.1,0.55],[42,-0.1,0.5],[44,-0.15,0.45],[45,-0.1,0.4],[47,-0.1,0.5]],
 [[1,-0.028,-0.008],[3,-0.026,-0.006],[6,-0.022,-0.002],[9,-0.015,0.005],[12,-0.012,0.008],[18,-0.012,0.008],[22,-0.013,0.007],[26,-0.013,0.007],[32,-0.013,0.007],[40,-0.013,0.007],[47,-0.012,0.008]],
 [[0,-1.5,1.75],[1,-1.2,1.0],[2,-0.6,0.3],[4,-0.7,0.6],[5,-0.9,0.75],[6,-1.1,0.5],[7,-1.2,0.3],[8,-1.35,0.0],[9,-1.4,-0.05],[10,-1.45,-0.3],[12,-1.6,-0.8],[14,-1.6,-0.8],[16,-1.65,-0.8],[18,-1.65,-0.8],[20,-1.7,-0.85],[22,-1.65,-0.85],[24,-1.6,-0.9],[26,-1.8,-0.9],[28,-1.9,-0.9],[30,-2.0,-0.9],[32,-2.05,-0.95],[34,-2.1,-0.9],[36,-2.0,-0.85],[38,-2.05,-0.95],[40,-2.0,-0.95],[42,-2.0,-0.95],[44,-2.0,-1.0],[46,-2.0,-1.0],[47,-2.0,-0.85]],
 [[0,-0.18,0.1],[2,-0.18,0.08],[4,-0.2,0.1],[6,-0.2,0.12],[8,-0.15,0.1],[10,-0.18,0.05],[12,-0.18,0.05],[14,-0.15,0.04],[18,-0.18,0.03],[22,-0.15,0.02],[24,-0.15,0.03],[26,-0.18,0.0],[30,-0.18,-0.02],[34,-0.18,-0.02],[38,-0.2,-0.03],[42,-0.2,-0.04],[45,-0.2,-0.05],[47,-0.25,0.0]],
 [[0,-0.5,6.1],[1,-0.5,4.0],[2,-0.4,4.0],[4,-0.3,4.5],[5,0.0,5.0],[6,0.3,5.2],[7,0.8,5.8],[8,1.2,6.0],[9,1.5,6.2],[10,1.6,6.4],[12,0.0,5.7],[13,-0.3,4.5],[14,-0.5,4.0],[15,-0.6,3.5],[16,-0.7,3.0],[17,-0.7,2.6],[19,-0.8,2.0],[20,-0.8,2.3],[22,-0.8,2.0],[24,-0.7,2.0],[26,-0.8,2.2],[28,-0.75,2.4],[30,-0.8,2.0],[32,-0.8,1.8],[34,-0.8,1.5],[35,-0.8,1.3],[37,-0.8,0.6],[38,-0.8,0.8],[40,-0.75,1.3],[42,-0.7,2.2],[43,-0.7,2.0],[44,-0.65,1.2],[47,-0.7,1.8]],
 [[0,-4.4,0.5],[1,-3.1,0.6],[2,-3.2,0.55],[3,-3.6,0.35],[4,-3.3,0.6],[5,-3.7,0.5],[6,-3.2,0.3],[7,-3.2,0.5],[8,-3.0,0.55],[9,-2.8,0.45],[10,-3.0,0.6],[11,-2.3,0.5],[12,-2.3,0.7],[13,-2.0,0.6],[14,-2.6,0.7],[15,-2.4,0.5],[16,-1.5,0.6],[17,-2.5,0.65],[18,-2.2,0.65],[19,-1.4,0.5],[20,-2.3,0.6],[21,-2.4,0.5],[22,-2.1,0.65],[23,-2.4,0.55],[24,-1.8,0.65],[25,-2.6,0.5],[26,-1.4,0.65],[27,-2.2,0.7],[28,-2.5,0.7],[29,-1.3,0.55],[30,-2.0,0.75],[31,-2.7,0.75],[32,-2.5,0.7],[33,-1.6,0.6],[34,-2.4,0.75],[35,-2.8,0.55],[36,-1.2,0.65],[37,-2.0,0.65],[38,-2.5,0.55],[39,-1.6,0.6],[40,-2.6,0.6],[41,-1.8,0.6],[42,-2.4,0.6],[43,-2.8,0.45],[44,-2.3,0.5],[45,-2.6,0.55],[46,-2.7,0.5],[47,-2.0,0.6]],
 [[0,-1.25,0.75],[1,-1.2,0.7],[2,-0.7,0.2],[4,-0.6,0.25],[5,-0.7,0.3],[6,-0.5,0.0],[8,-0.3,0.3],[9,0.0,0.8],[10,0.4,1.2],[11,0.7,1.25],[13,0.95,1.35],[14,0.95,1.35],[15,0.9,1.35],[16,0.95,1.35],[17,0.95,1.3],[18,1.0,1.25],[22,0.55,0.7],[26,0.5,0.7],[28,0.4,0.6],[29,0.38,0.55],[30,0.35,0.55],[32,0.3,0.5],[33,0.3,0.48],[34,0.3,0.5],[36,0.15,0.45],[37,0.08,0.35],[38,0.05,0.25],[40,0.0,0.25],[41,0.02,0.25],[42,0.05,0.25],[44,0.1,0.3],[45,0.12,0.3],[46,0.15,0.3]],
 [[0,0.1,1.0],[1,0.15,0.9],[2,0.2,0.8],[4,0.2,0.75],[6,0.25,0.72],[8,0.2,0.6],[10,0.2,0.5],[12,0.15,0.45],[14,0.12,0.42],[16,0.1,0.42],[18,0.05,0.4],[20,0.05,0.38],[22,0.05,0.37],[24,0.1,0.35],[26,0.05,0.35],[28,0.05,0.3],[30,0.05,0.35],[32,0.05,0.4],[34,0.05,0.35],[36,0.02,0.3],[38,0.0,0.28],[40,0.0,0.25],[42,-0.05,0.2],[44,-0.1,0.15],[47,-0.1,0.1]],
 [[0,-0.46,-0.36],[2,-0.46,-0.37],[4,-0.45,-0.37],[10,-0.45,-0.38],[12,-0.46,-0.38],[24,-0.46,-0.39],[26,-0.46,-0.38],[45,-0.45,-0.37],[47,-0.45,-0.37]],
 [[0,-1.85,0.05],[1,-1.6,0.1],[2,-1.4,-0.3],[4,-1.2,0.0],[5,-0.8,0.3],[6,-0.5,0.6],[8,-0.5,0.75],[9,-0.6,0.7],[10,-0.55,0.7],[12,-0.6,0.75],[14,-0.5,0.6],[16,-0.45,0.55],[17,-0.35,0.55],[19,-0.5,0.55],[21,-0.5,0.55],[23,-0.5,0.5],[24,-0.5,0.4],[26,-0.6,0.5],[28,-0.65,0.55],[30,-0.7,0.55],[32,-0.75,0.6],[34,-0.75,0.55],[36,-0.85,0.5],[38,-0.75,0.45],[40,-0.7,0.55],[42,-0.75,0.45],[44,-0.9,0.2],[45,-0.8,0.15],[47,-0.9,0.2]],
 [[0,-0.4,0.0],[1,-0.4,0.0],[2,-0.3,-0.05],[4,-0.35,-0.05],[6,-0.3,-0.1],[8,-0.3,-0.05],[10,-0.3,-0.05],[12,-0.35,-0.05],[14,-0.35,-0.05],[16,-0.35,-0.05],[19,-0.4,0.0],[21,-0.35,0.0],[23,-0.35,0.05],[26,-0.25,0.05],[28,-0.25,0.1],[30,-0.2,0.15],[32,-0.15,0.2],[34,-0.1,0.25],[35,-0.05,0.25],[37,0.05,0.35],[39,0.05,0.4],[41,0.05,0.42],[43,0.1,0.45],[45,0.05,0.35],[47,0.1,0.45]],
 [[0,-1.4,2.3],[1,-1.65,2.0],[2,-1.5,2.05],[3,-1.2,2.3],[4,-1.4,2.1],[5,-1.45,1.8],[6,-1.2,2.2],[7,-1.0,2.4],[8,-1.3,1.9],[9,-1.45,1.8],[10,-1.3,1.9],[11,-1.2,1.7],[12,-1.55,1.9],[13,-1.2,1.8],[14,-1.3,1.7],[15,-1.2,1.6],[16,-1.25,1.8],[17,-1.1,1.9],[18,-1.25,2.15],[19,-1.35,1.95],[20,-1.2,1.8],[21,-1.3,1.6],[22,-1.1,1.4],[23,-1.2,1.25],[24,-1.25,1.3],[25,-1.1,1.2],[26,-1.0,1.4],[27,-1.15,1.25],[28,-1.2,1.3],[29,-1.1,1.4],[30,-1.0,1.3],[31,-1.15,1.3],[32,-1.05,1.4],[33,-1.1,1.2],[34,-1.0,1.35],[35,-1.05,1.2],[36,-0.9,1.3],[37,-0.9,1.4],[38,-0.7,1.3],[39,-0.65,1.5],[40,-0.9,1.25],[41,-0.8,1.3],[42,-0.85,1.35],[43,-0.9,1.2],[44,-0.95,1.4],[45,-0.95,1.35],[46,-0.95,1.4],[47,-1.0,1.4]],
 [[0,-2.5,1.0],[1,-2.1,0.2],[2,-1.6,0.5],[4,-1.5,0.8],[5,-2.0,1.0],[6,-2.0,0.6],[8,-1.6,0.3],[9,-1.3,0.6],[10,-0.8,0.8],[12,-1.3,0.75],[13,-1.5,0.8],[14,-1.4,0.9],[15,-1.3,0.8],[16,-1.2,0.8],[17,-0.9,0.5],[19,-1.4,1.5],[20,-1.2,1.7],[21,-1.0,1.9],[22,-0.6,2.0],[23,-0.3,2.2],[24,-0.2,2.4],[26,-0.45,1.3],[27,-0.4,1.4],[28,-0.3,1.35],[30,-0.2,1.4],[32,-0.3,1.45],[34,-0.25,1.5],[36,-0.35,1.5],[38,-0.4,1.45],[40,-0.45,1.35],[42,-0.5,1.3],[44,-0.5,1.15],[45,-0.55,1.0],[47,-0.4,2.1]],
 [[0,1.4,3.65],[1,1.3,3.65],[2,1.5,3.6],[3,1.75,3.55],[4,1.85,3.5],[5,1.6,3.4],[6,1.75,3.0],[8,1.6,3.1],[9,1.5,3.1],[10,1.65,3.1],[11,1.8,3.05],[12,1.6,3.0],[13,1.6,3.0],[14,1.6,2.8],[15,1.7,2.9],[16,1.55,2.95],[17,1.7,2.5],[19,1.3,2.65],[20,1.35,2.5],[21,1.5,2.5],[22,1.3,2.35],[23,1.4,2.5],[24,1.5,2.4],[26,1.1,2.45],[27,1.2,2.3],[28,1.1,2.15],[29,0.9,2.35],[30,0.7,2.2],[31,1.0,2.0],[32,1.0,2.2],[33,0.9,2.3],[34,1.0,1.9],[35,1.0,2.0],[37,0.9,1.9],[38,0.85,1.9],[39,0.8,2.0],[40,0.9,1.8],[41,0.8,1.8],[42,0.8,1.85],[43,0.9,1.75],[44,0.85,1.7],[45,0.8,1.75],[47,0.8,1.6]],
 [[0,-2.7,0.0],[1,-2.3,-0.3],[2,-2.1,-0.5],[3,-2.4,-0.65],[4,-2.3,-0.7],[5,-2.8,-0.75],[6,-2.4,-0.8],[7,-2.0,-0.8],[8,-1.8,-0.85],[9,-1.85,-0.9],[10,-1.6,-0.9],[11,-1.7,-0.9],[16,-1.15,-0.95],[21,-1.25,-1.1],[24,-1.2,-1.05],[31,-1.75,-1.45],[33,-1.6,-1.35]],
 [[1,2.3,2.5],[3,2.2,2.5],[4,2.0,2.5],[5,2.2,2.5],[7,2.0,2.48],[8,2.0,2.45],[9,1.9,2.4],[10,1.75,2.1],[12,1.0,1.9],[14,0.8,1.1],[16,0.7,1.05],[17,0.6,1.1],[18,0.75,1.05],[19,0.75,1.0],[21,0.7,1.0],[22,0.7,1.0],[24,0.7,1.0],[25,0.7,0.95],[27,0.65,1.05],[28,0.7,1.0],[29,0.75,0.95],[31,0.7,1.0],[32,0.7,0.95],[33,0.7,1.0],[34,0.75,0.95],[36,0.5,0.95],[37,0.4,0.85],[38,0.25,0.75],[40,0.2,0.65],[41,0.2,0.6],[42,0.15,0.6],[43,0.15,0.55],[45,0.15,0.55],[47,0.15,0.55]],
 [[0,-1.6,1.7],[1,-1.65,0.5],[2,-1.0,0.0],[4,-1.5,0.5],[5,-1.7,0.7],[6,-2.05,0.7],[8,-1.9,0.7],[9,-1.8,0.65],[10,-1.75,0.6],[12,-1.65,0.6],[13,-1.55,0.75],[14,-1.5,0.7],[15,-1.5,0.3],[16,-1.25,0.7],[17,-1.1,0.4],[19,-1.3,0.55],[20,-1.2,0.7],[21,-1.1,0.7],[22,-1.0,0.5],[23,-1.15,0.6],[24,-1.1,0.4],[26,-1.0,1.0],[27,-0.9,1.1],[28,-0.8,1.25],[29,-0.7,1.15],[30,-0.7,1.2],[31,-0.6,1.15],[32,-0.6,1.1],[33,-0.5,1.2],[34,-0.45,0.9],[35,-0.4,0.8],[37,-0.5,1.2],[38,-0.5,1.1],[39,-0.45,1.3],[40,-0.55,1.2],[41,-0.5,1.25],[42,-0.5,1.5],[43,-0.45,1.35],[44,-0.35,1.2],[45,-0.55,0.9],[47,-0.4,1.35]],
 [[0,-2.0,-0.3],[1,-1.95,-0.6],[2,-1.8,-0.9],[4,-1.6,-0.85],[5,-1.45,-0.9],[6,-1.5,-0.95],[8,-1.55,-0.8],[9,-1.6,-0.85],[10,-1.65,-0.95],[11,-1.65,-1.0],[12,-1.6,-1.05],[13,-1.55,-1.05],[14,-1.5,-1.1],[16,-1.45,-1.05],[17,-1.45,-1.0],[18,-1.45,-1.05],[19,-1.45,-1.1],[20,-1.35,-1.05],[21,-1.3,-1.0],[22,-1.2,-1.0],[24,-1.15,-1.05],[25,-1.15,-1.05],[26,-1.15,-1.05],[28,-1.15,-1.05],[29,-1.15,-1.05],[30,-1.15,-1.05],[32,-1.2,-0.95],[33,-1.1,-0.8],[34,-1.0,-0.65],[35,-0.8,-0.55],[37,-0.8,-0.55],[38,-0.95,-0.55],[39,-1.0,-0.6],[41,-0.9,-0.3],[43,-0.75,-0.15],[44,-0.8,-0.2],[45,-0.75,-0.25],[46,-0.7,-0.2]],
 [[0,-2.15,3.2],[1,-2.2,3.3],[2,-2.15,2.8],[3,-2.2,2.6],[4,-2.05,2.5],[5,-2.0,2.6],[6,-2.2,2.5],[7,-2.15,2.8],[8,-2.0,2.5],[9,-1.9,2.5],[10,-2.1,2.6],[11,-2.0,2.3],[12,-1.9,1.8],[13,-1.85,1.8],[14,-2.0,2.1],[15,-1.9,2.0],[16,-1.9,1.9],[17,-1.85,2.1],[18,-1.9,1.8],[19,-1.85,1.85],[20,-1.9,1.85],[21,-1.85,2.2],[22,-1.9,1.6],[23,-1.85,1.5],[24,-1.8,1.5],[25,-1.95,1.7],[26,-1.85,1.8],[27,-1.85,1.7],[28,-1.9,1.6],[29,-2.0,1.4],[30,-2.1,1.3],[31,-1.95,2.0],[32,-1.8,1.8],[33,-1.85,1.4],[34,-1.85,1.3],[35,-1.85,1.6],[36,-1.75,1.4],[37,-1.8,1.2],[38,-1.85,1.3],[39,-1.75,1.5],[40,-1.85,1.4],[41,-1.8,1.3],[42,-1.7,1.5],[43,-1.8,1.3],[44,-1.85,1.3],[45,-1.8,1.6],[46,-1.75,1.2],[47,-1.65,1.05]],
 [[0,-1.95,-0.4],[6,-1.9,-0.8],[10,-1.2,-0.6],[13,-1.5,-1.3],[16,-1.55,-0.7],[17,-1.6,-0.8],[18,-1.6,-0.9],[19,-1.4,-0.9],[20,-1.2,-0.9],[22,-1.5,-0.7],[23,-1.6,-0.6],[24,-1.6,-0.75],[25,-1.6,-0.8],[26,-1.5,-0.75],[27,-1.5,-0.7],[28,-1.5,-0.8],[29,-1.4,-0.8],[30,-1.3,-1.0],[33,-1.3,-0.8],[36,-1.2,-0.5],[38,-1.1,-0.7],[41,-1.1,-0.5],[42,-1.25,-0.45],[43,-1.35,-0.4],[44,-1.45,-0.5],[45,-1.45,-0.5],[46,-1.45,-0.4],[47,-1.45,-0.5]],
 [[0,1.7,4.9],[1,1.6,4.6],[2,1.75,4.1],[4,1.5,3.3],[5,1.6,3.3],[6,1.65,3.0],[8,1.4,3.15],[9,1.35,3.1],[10,1.2,3.0],[12,1.1,2.9],[14,0.95,2.6],[16,0.9,2.3],[17,1.0,2.0],[19,0.8,2.2],[20,0.8,2.3],[22,0.9,2.1],[24,0.95,1.9],[26,0.8,1.8],[28,0.75,1.75],[30,0.7,1.6],[32,0.75,1.65],[34,0.7,1.5],[35,0.8,1.4],[37,0.7,1.6],[39,0.75,1.7],[41,0.65,1.65],[43,0.7,1.75],[45,0.75,1.6],[47,0.75,1.7]],
 [[0,-1.25,0.95],[1,-1.5,0.45],[2,-1.85,0.9],[3,-1.75,0.5],[4,-1.75,0.4],[5,-1.85,-0.1],[6,-1.9,0.3],[7,-1.6,0.55],[8,-1.4,0.25],[9,-1.2,-0.2],[10,-1.15,-0.2],[11,-0.9,-0.3],[33,-0.1,0.05],[38,-0.15,-0.05]],
 [[0,-0.75,3.2],[1,-0.77,3.0],[2,-0.77,2.6],[3,-0.78,3.2],[4,-0.77,2.8],[5,-0.77,2.6],[6,-0.77,2.55],[7,-0.77,2.5],[8,-0.77,2.7],[9,-0.77,2.6],[10,-0.76,2.3],[11,-0.77,2.3],[12,-0.77,3.25],[13,-0.77,2.4],[14,-0.77,3.0],[15,-0.77,2.5],[16,-0.78,2.5],[17,-0.77,2.3],[18,-0.77,2.35],[19,-0.78,2.0],[20,-0.78,2.0],[21,-0.77,2.3],[22,-0.77,2.2],[23,-0.77,1.9],[24,-0.77,1.95],[25,-0.77,2.0],[26,-0.77,1.8],[27,-0.77,2.2],[28,-0.77,2.0],[29,-0.77,1.85],[30,-0.77,1.7],[31,-0.77,1.9],[32,-0.77,2.0],[33,-0.77,1.6],[34,-0.77,1.8],[35,-0.77,2.2],[36,-0.77,2.0],[37,-0.77,2.1],[38,-0.77,2.2],[39,-0.77,2.25],[40,-0.77,1.6],[41,-0.77,1.7],[42,-0.77,1.95],[43,-0.77,1.9],[44,-0.77,1.85],[45,-0.78,1.8],[46,-0.78,1.6],[47,-0.8,1.25]],
 [[1,-1.2,0.3],[2,-1.3,0.6],[3,-1.25,0.5],[4,-1.3,0.4],[6,-0.6,0.6],[8,-0.85,0.4],[9,-0.8,0.5],[11,-0.9,0.4],[12,-0.8,0.5],[14,-1.3,0.1],[17,-1.25,-0.1],[18,-1.25,-0.3],[20,-1.3,-0.4],[21,-1.2,-0.3],[22,-1.15,-0.2],[23,-1.05,-0.3],[24,-1.2,-0.3],[25,-1.05,-0.2],[26,-1.1,-0.15],[27,-1.0,-0.2],[29,-1.1,0.2],[31,-1.2,0.0],[32,-1.0,0.25],[34,-1.1,-0.3],[35,-1.15,-0.35],[37,-1.1,-0.3],[38,-1.15,-0.35],[39,-1.2,-0.4],[40,-1.25,-0.35],[41,-1.25,-0.3],[43,-1.2,-0.35],[44,-1.25,-0.35],[45,-1.3,-0.3],[46,-1.25,-0.35],[47,-1.25,-0.35]],
 [[0,-0.6,1.4],[1,-0.55,1.0],[2,-0.5,0.95],[3,-0.45,0.8],[4,-0.35,0.7],[5,-0.25,0.65],[6,-0.2,0.6],[8,-0.25,0.35],[9,-0.35,0.1],[10,-0.4,0.05],[12,-0.45,0.0],[14,-0.5,-0.05],[16,-0.55,-0.1],[17,-0.55,-0.15],[19,-0.7,-0.1],[20,-0.75,-0.15],[22,-0.8,-0.25],[24,-0.8,-0.35],[26,-0.75,-0.4],[28,-0.8,-0.4],[30,-0.8,-0.4],[32,-0.8,-0.45],[34,-0.8,-0.5],[35,-0.8,-0.55],[37,-0.8,-0.45],[38,-0.85,-0.45],[40,-0.85,-0.4],[42,-0.9,-0.4],[44,-0.9,-0.4],[46,-0.9,-0.4],[47,-0.9,-0.4]],
 [[0,-0.5,3.05],[1,-0.6,0.3],[3,-0.7,-0.4],[10,-0.65,-0.55],[11,-0.65,-0.55],[12,-0.65,-0.55],[15,-0.65,-0.55],[20,-0.65,-0.58],[32,-0.65,-0.55],[36,-0.65,-0.55],[38,-0.65,-0.55],[41,-0.65,-0.55],[45,-0.65,-0.55],[46,-0.65,-0.55]],
 [[0,-1.35,0.9],[1,-0.9,-0.6],[15,-0.6,-0.3],[16,-1.0,0.1],[17,-1.05,0.0],[18,-1.05,-0.05],[19,-1.1,-0.1],[20,-1.1,-0.15],[22,-0.9,0.0],[23,-1.0,0.15],[24,-1.3,0.05],[25,-1.1,0.0],[26,-1.05,-0.05],[27,-1.15,0.1],[28,-1.1,0.1],[29,-1.15,0.05],[30,-1.3,-0.25],[31,-0.8,-0.5],[42,-0.4,0.3],[43,-0.6,0.7],[44,-0.75,0.7],[45,-0.85,0.45],[46,-0.9,0.4],[47,-1.0,0.4]],
 [[0,-0.35,0.0],[1,-0.25,0.1],[2,-0.2,0.15],[4,-0.1,0.2],[5,-0.1,0.25],[6,0.0,0.25],[8,0.0,0.3],[9,0.05,0.4],[10,0.1,0.45],[12,0.15,0.45],[13,0.2,0.5],[14,0.25,0.55],[15,0.25,0.6],[16,0.3,0.6],[17,0.35,0.65],[19,0.35,0.65],[20,0.4,0.7],[21,0.45,0.75],[22,0.5,0.8],[23,0.55,0.85],[24,0.6,0.85],[26,0.65,1.0],[27,0.7,1.05],[28,0.75,1.1],[29,0.8,1.15],[30,0.85,1.25],[31,0.9,1.3],[32,0.95,1.35],[33,0.95,1.4],[34,1.0,1.45],[35,1.05,1.5],[36,1.1,1.55],[37,1.1,1.6],[38,1.1,1.62],[39,1.1,1.65],[40,1.15,1.7],[41,1.15,1.7],[42,1.15,1.72],[43,1.2,1.75],[44,1.25,1.75],[45,1.3,1.8],[47,1.3,1.6]],
 [[0,-0.45,-0.1],[1,-0.48,-0.3],[2,-0.45,-0.32],[4,-0.47,-0.35],[6,-0.5,-0.35],[8,-0.52,-0.37],[10,-0.52,-0.38],[12,-0.5,-0.4],[16,-0.48,-0.4],[20,-0.48,-0.39],[24,-0.47,-0.4],[26,-0.47,-0.4],[30,-0.46,-0.38],[34,-0.46,-0.38],[38,-0.45,-0.37],[42,-0.46,-0.37],[45,-0.45,-0.37],[47,-0.45,-0.4]]
];

// gray baseline median (dashed)
const grayMedian = [
 [[0,0.15],[1,0.12],[2,0.1],[3,0.1],[4,0.05],[5,0.0],[6,0.05],[7,0.1],[8,0.1],[9,0.12],[10,0.12],[11,0.15],[26,0.35],[30,0.55],[31,0.05],[46,0.45]],
 [[0,0.3],[18,0.9],[38,0.2],[45,0.2]],
 [[0,-0.22],[1,-0.3],[2,-0.3],[4,-0.3],[5,-0.1],[6,-0.2],[8,-0.05],[9,0.0],[10,0.0],[12,-0.1],[13,-0.05],[14,-0.05],[15,-0.03],[16,0.0],[17,0.05],[19,-0.05],[20,-0.05],[22,0.0],[24,0.05],[26,0.0],[28,0.05],[30,0.05],[32,0.05],[34,0.05],[35,0.08],[37,0.1],[39,0.1],[41,0.12],[43,0.1],[45,0.1],[47,0.25]],
 [[0,0.25],[2,0.3],[4,0.4],[5,0.5],[6,0.7],[7,0.9],[9,1.3],[10,1.5],[12,1.3],[14,1.1],[15,1.05],[16,1.0],[17,0.85],[18,0.75],[19,0.7],[21,0.5],[22,0.7],[23,0.75],[24,0.75],[26,0.75],[27,0.6],[28,0.75],[29,0.75],[30,0.7],[32,0.5],[33,0.55],[35,0.5],[36,0.55],[38,0.5],[40,0.35],[42,0.3],[44,0.25],[46,0.15],[47,0.12]],
 [[0,-0.05],[2,0.0],[16,0.1],[17,0.28],[19,0.25],[20,0.1],[22,0.2],[24,0.25],[26,0.25],[28,0.2],[30,0.15],[31,0.0],[32,0.05],[42,0.25],[44,0.25],[46,0.2],[47,0.2]],
 [[1,0.1],[2,0.08],[3,-0.05],[4,0.0],[6,0.0],[7,0.05],[8,0.0],[9,-0.15],[11,-0.15],[12,-0.2],[14,-0.3],[17,-0.35],[18,-0.4],[20,-0.35],[22,-0.3],[23,-0.3],[25,-0.3],[27,-0.25],[29,-0.2],[31,-0.25],[32,-0.35],[34,-0.3],[35,-0.3],[38,-0.2],[40,-0.1],[41,-0.1],[43,-0.1],[45,0.0],[47,0.0]],
 [[0,0.2],[4,0.3],[8,0.3],[12,0.25],[16,0.3],[17,0.28],[19,0.28],[20,0.3],[24,0.28],[26,0.25],[30,0.25],[34,0.25],[35,0.25],[37,0.22],[38,0.2],[42,0.15],[45,0.12],[47,0.2]],
 [[1,0.15],[2,0.17],[3,0.1],[4,0.05],[6,0.05],[8,0.12],[9,0.2],[11,0.12],[12,0.08],[14,0.05],[17,0.2],[18,0.17],[20,0.2],[21,0.18],[22,0.15],[23,0.1],[25,0.12],[26,0.15],[27,0.1],[29,0.08],[31,0.08],[32,0.05],[34,0.1],[35,0.08],[38,0.1],[39,0.08],[40,0.05],[41,0.04],[43,0.08],[44,0.08],[45,0.05],[46,0.02],[47,0.0]],
 [[0,-0.2],[1,-0.25],[2,-0.2],[4,-0.45],[6,-0.5],[8,-0.5],[10,-0.4],[12,-0.45],[14,-0.4],[16,-0.35],[18,-0.35],[20,-0.35],[22,-0.3],[24,-0.3],[26,-0.3],[28,-0.35],[30,-0.35],[32,-0.3],[34,-0.25],[36,-0.2],[38,-0.15],[40,-0.1],[42,-0.1],[44,-0.05],[46,-0.05],[47,-0.05]],
 [[0,0.23],[1,0.3],[2,0.28],[4,0.3],[5,0.3],[6,0.35],[7,0.4],[8,0.5],[9,0.55],[10,0.68],[12,0.35],[13,0.32],[14,0.35],[15,0.4],[16,0.42],[17,0.4],[18,0.37],[19,0.3],[20,0.28],[21,0.3],[22,0.32],[23,0.25],[24,0.32],[26,0.3],[27,0.3],[28,0.25],[29,0.22],[30,0.15],[31,0.12],[32,0.15],[33,0.18],[34,0.17],[35,0.1],[36,0.08],[37,0.13],[38,0.12],[39,0.1],[40,0.05],[41,0.05],[42,0.0],[43,0.0],[44,0.0],[45,0.05],[47,-0.05]],
 [[0,0.3],[1,0.5],[2,0.6],[4,0.5],[5,0.5],[6,0.5],[7,0.6],[8,0.6],[9,0.6],[10,0.6],[12,0.3],[13,0.3],[14,0.3],[16,0.25],[17,0.2],[19,0.15],[21,0.2],[23,0.25],[25,0.2],[27,0.2],[29,0.15],[31,0.15],[33,0.15],[35,0.1],[37,0.1],[40,0.1],[43,0.12],[45,0.1],[47,0.05]],
 [[0,-0.25],[2,-0.25],[4,-0.2],[6,-0.25],[8,-0.2],[10,-0.15],[12,-0.1],[14,-0.1],[16,-0.05],[18,-0.1],[20,-0.05],[22,-0.05],[24,-0.05],[26,-0.05],[28,0.0],[30,0.0],[32,0.05],[34,0.05],[36,0.0],[38,0.05],[40,0.05],[42,0.05],[44,0.05],[47,0.1]],
 [[0,0.0],[1,-0.05],[2,-0.1],[4,0.0],[5,-0.05],[6,-0.1],[8,-0.1],[9,0.05],[10,0.1],[11,0.15],[13,0.15],[14,0.2],[15,0.2],[16,0.2],[17,0.22],[18,0.3],[22,0.45],[26,0.2],[28,0.15],[29,0.15],[30,0.15],[32,0.15],[33,0.12],[34,0.1],[36,0.1],[37,0.08],[38,0.05],[40,0.05],[41,0.08],[42,0.1],[44,0.1],[45,0.1],[46,0.1]],
 [[0,0.2],[1,0.3],[2,0.33],[4,0.45],[5,0.5],[6,0.55],[7,0.6],[8,0.62],[9,0.7],[10,0.72],[12,0.5],[13,0.55],[14,0.6],[15,0.63],[16,0.62],[17,0.6],[18,0.55],[19,0.55],[20,0.5],[21,0.45],[22,0.42],[23,0.4],[24,0.45],[26,0.5],[27,0.45],[28,0.35],[29,0.3],[30,0.3],[31,0.28],[32,0.25],[33,0.3],[34,0.25],[35,0.2],[36,0.22],[37,0.18],[38,0.15],[39,0.15],[40,0.12],[41,0.12],[42,0.1],[43,0.08],[44,0.05],[45,0.05],[47,-0.02]],
 [[0,0.03],[1,0.1],[2,0.15],[4,0.2],[5,0.25],[6,0.22],[7,0.2],[8,0.18],[9,0.15],[10,0.13],[12,0.08],[13,0.13],[14,0.1],[15,0.12],[16,0.1],[17,0.05],[18,0.05],[19,0.0],[20,0.05],[21,0.1],[22,0.08],[23,0.05],[24,0.1],[26,0.0],[27,0.05],[28,0.05],[29,0.03],[30,0.05],[31,0.08],[32,0.1],[33,0.05],[34,-0.05],[35,-0.08],[36,-0.05],[37,-0.05],[38,-0.05],[39,-0.03],[40,-0.05],[41,-0.05],[42,-0.03],[43,-0.05],[44,-0.05],[45,-0.08],[47,-0.1]],
 [[0,-0.2],[1,-0.3],[2,-0.4],[4,-0.55],[5,-0.6],[6,-0.5],[8,-0.6],[9,-0.55],[10,-0.6],[12,-0.55],[14,-0.6],[16,-0.5],[17,-0.4],[19,-0.55],[21,-0.55],[23,-0.55],[24,-0.5],[26,-0.5],[28,-0.45],[30,-0.45],[32,-0.45],[34,-0.4],[36,-0.4],[38,-0.35],[40,-0.35],[42,-0.3],[44,-0.2],[45,-0.15],[47,-0.15]],
 [[0,0.17],[1,0.3],[2,0.4],[4,0.4],[5,0.4],[6,0.35],[8,0.15],[9,0.15],[10,0.12],[12,-0.05],[13,0.02],[14,0.05],[15,0.0],[16,0.0],[17,-0.05],[19,0.05],[20,0.05],[21,0.0],[22,0.0],[23,-0.05],[24,0.05],[26,0.05],[27,0.02],[28,-0.05],[29,-0.1],[30,-0.1],[31,-0.15],[32,-0.1],[33,-0.05],[34,-0.05],[35,-0.1],[37,-0.2],[38,-0.15],[39,-0.15],[40,-0.1],[41,-0.1],[42,-0.1],[43,-0.08],[44,-0.1],[45,-0.05],[47,-0.15]],
 [[0,0.2],[2,0.25],[4,0.2],[6,0.25],[8,0.2],[10,0.15],[12,0.1],[14,0.05],[16,0.0],[18,0.0],[20,-0.05],[22,0.0],[24,-0.05],[26,-0.05],[28,0.0],[30,0.05],[32,0.05],[34,0.1],[36,0.1],[38,0.15],[40,0.2],[42,0.2],[44,0.2],[47,0.2]],
 [[0,0.05],[2,0.05],[4,0.0],[6,-0.05],[8,0.0],[10,0.0],[12,0.0],[14,0.0],[16,0.0],[17,0.0],[19,0.05],[22,0.05],[24,0.05],[26,0.1],[28,0.1],[30,0.05],[34,0.05],[38,0.05],[42,0.05],[45,0.05],[47,0.1]],
 [[0,0.05],[2,0.02],[4,0.0],[6,0.0],[8,0.15],[10,0.1],[12,0.2],[14,0.25],[16,0.2],[17,0.3],[19,0.3],[21,0.3],[23,0.35],[24,0.3],[26,0.35],[28,0.3],[30,0.3],[32,0.25],[34,0.3],[35,0.3],[37,0.3],[40,0.3],[43,0.3],[45,0.25],[47,0.35]],
 [[0,-0.4],[1,-0.5],[2,-0.55],[3,-0.65],[4,-0.7],[5,-0.75],[6,-0.75],[7,-0.72],[8,-0.75],[9,-0.75],[10,-0.78],[11,-0.8],[16,-0.8],[21,-1.0],[24,-0.85],[31,-1.1],[33,-1.2]],
 [[1,0.85],[3,1.4],[4,0.95],[5,2.2],[7,1.2],[8,0.95],[9,1.0],[10,1.7],[12,1.1],[14,0.6],[16,0.3],[17,0.3],[18,0.6],[19,0.7],[21,0.15],[22,0.15],[24,0.15],[25,0.3],[27,0.2],[28,0.2],[29,0.3],[31,0.1],[32,0.15],[33,0.15],[34,0.3],[36,0.2],[37,0.1],[38,0.2],[40,0.2],[41,0.1],[42,0.1],[43,0.2],[45,0.25],[47,0.2]],
 [[0,0.3],[1,0.45],[2,0.4],[4,0.5],[5,0.5],[6,0.4],[8,0.4],[9,0.45],[10,0.4],[12,0.35],[13,0.35],[14,0.35],[15,0.3],[16,0.35],[17,0.3],[19,0.3],[20,0.3],[22,0.3],[24,0.25],[26,0.3],[28,0.25],[30,0.25],[32,0.25],[34,0.25],[35,0.3],[37,0.2],[39,0.15],[41,0.1],[43,0.1],[45,0.1],[47,0.15]],
 [[0,-0.05],[1,0.15],[2,0.0],[4,-0.2],[5,-0.3],[6,-0.35],[8,-0.75],[9,-0.8],[10,-0.82],[11,-0.8],[12,-0.75],[13,-0.75],[14,-0.8],[16,-0.9],[17,-0.88],[18,-0.9],[19,-0.92],[20,-0.95],[21,-0.95],[22,-1.0],[24,-1.0],[25,-1.0],[26,-1.0],[28,-1.0],[29,-1.0],[30,-1.0],[32,-0.95],[33,-0.8],[34,-0.7],[35,-0.65],[37,-0.8],[38,-0.8],[39,-0.8],[41,-0.7],[43,-0.6],[44,-0.6],[45,-0.55],[46,-0.55]],
 [[0,-0.15],[4,-0.2],[8,-0.3],[12,-0.35],[16,-0.4],[20,-0.4],[24,-0.4],[28,-0.38],[32,-0.32],[36,-0.28],[40,-0.2],[44,-0.15],[47,-0.1]],
 [[0,-0.45],[6,-1.1],[10,-0.8],[13,-1.35],[16,-0.4],[17,-0.45],[18,-0.45],[19,-0.55],[20,-0.7],[22,-0.5],[23,-0.35],[24,-0.4],[25,-0.35],[26,-0.3],[27,-0.35],[28,-0.45],[29,-0.55],[30,-0.8],[33,-0.7],[36,-0.6],[38,-0.75],[41,-0.5],[42,-0.35],[43,-0.25],[44,-0.25],[45,-0.2],[46,-0.2],[47,-0.2]],
 [[0,0.15],[1,0.3],[2,0.4],[4,0.45],[5,0.4],[6,0.45],[8,0.45],[9,0.35],[10,0.4],[12,0.4],[14,0.35],[16,0.4],[17,0.45],[19,0.4],[21,0.35],[23,0.35],[24,0.3],[26,0.4],[28,0.35],[30,0.35],[32,0.4],[34,0.4],[35,0.4],[37,0.3],[39,0.25],[41,0.2],[43,0.2],[45,0.15],[47,0.1]],
 [[0,-0.1],[1,-0.2],[2,-0.25],[3,-0.3],[4,-0.3],[5,-0.3],[6,-0.3],[7,-0.28],[8,-0.25],[9,-0.3],[10,-0.3],[11,-0.25],[33,-0.1],[38,-0.2]],
 [[0,0.1],[2,0.15],[4,0.12],[6,0.15],[8,0.12],[10,0.18],[12,0.1],[14,0.05],[16,0.1],[18,0.05],[20,0.08],[22,0.05],[24,0.05],[26,0.05],[28,0.02],[30,0.0],[32,0.02],[34,0.0],[36,0.0],[38,0.02],[40,0.0],[42,0.02],[44,0.0],[47,-0.02]],
 [[1,0.4],[2,0.35],[3,0.2],[4,0.1],[6,0.25],[8,0.0],[9,-0.05],[11,-0.05],[12,-0.05],[14,-0.4],[17,-0.55],[18,-0.35],[20,-0.3],[21,-0.3],[22,-0.3],[23,-0.3],[24,-0.25],[25,-0.25],[26,-0.3],[27,-0.3],[29,-0.3],[31,-0.3],[32,-0.05],[34,-0.3],[35,-0.25],[37,-0.1],[38,-0.15],[39,-0.15],[40,-0.2],[41,-0.25],[43,-0.15],[44,-0.1],[45,-0.1],[46,-0.15],[47,-0.1]],
 [[0,0.1],[2,0.0],[4,-0.05],[6,0.0],[8,0.05],[10,0.0],[12,0.0],[14,0.0],[16,-0.05],[17,-0.1],[19,-0.1],[20,-0.1],[22,-0.1],[24,-0.12],[26,-0.1],[28,-0.1],[30,-0.1],[32,-0.05],[34,-0.05],[35,-0.08],[37,-0.02],[38,0.0],[40,0.0],[42,0.0],[44,0.0],[46,0.02],[47,0.02]],
 [[0,-0.1],[1,-0.1],[3,-0.3],[10,-0.15],[11,-0.45],[12,-0.45],[15,-0.3],[20,-0.45],[32,-0.45],[36,-0.2],[38,-0.3],[41,-0.2],[45,-0.15],[46,-0.3]],
 [[0,-0.25],[1,-0.65],[15,-0.4],[16,-0.1],[17,-0.1],[18,-0.1],[19,-0.2],[20,-0.25],[22,-0.1],[23,-0.05],[24,-0.05],[25,0.0],[26,0.02],[27,0.0],[28,-0.05],[29,-0.15],[30,-0.2],[31,-0.4],[42,0.0],[43,0.05],[44,0.1],[45,0.05],[46,0.0],[47,0.0]],
 [[0,0.25],[1,0.3],[2,0.2],[4,0.3],[5,0.4],[6,0.25],[8,0.2],[9,0.25],[10,0.2],[12,0.2],[13,0.25],[14,0.35],[15,0.3],[16,0.25],[17,0.3],[19,0.4],[20,0.35],[21,0.25],[22,0.2],[23,0.25],[24,0.2],[26,0.35],[27,0.15],[28,0.1],[29,0.05],[30,0.1],[31,0.08],[32,0.0],[33,0.05],[34,0.0],[35,0.0],[36,-0.02],[37,-0.03],[38,-0.03],[39,-0.03],[40,-0.02],[41,-0.02],[42,-0.03],[43,-0.05],[44,-0.02],[45,0.0],[47,-0.15]],
 [[0,0.12],[1,0.27],[2,0.3],[4,0.32],[5,0.3],[6,0.33],[7,0.35],[8,0.35],[9,0.4],[10,0.42],[12,0.28],[13,0.2],[14,0.22],[15,0.2],[16,0.25],[17,0.27],[18,0.25],[19,0.25],[20,0.27],[21,0.22],[22,0.25],[23,0.15],[24,0.28],[26,0.27],[27,0.25],[28,0.2],[30,0.2],[32,0.15],[33,0.1],[34,0.1],[36,0.05],[38,0.0],[40,-0.02],[42,0.0],[44,-0.05],[45,-0.05],[47,-0.15]]
];

// gray baseline interval [step, low, high]
const grayBand = [
 [[0,-0.25,0.45],[2,-0.2,0.4],[4,-0.25,0.35],[6,-0.2,0.35],[8,-0.15,0.35],[10,-0.1,0.35],[11,-0.05,0.3],[26,0.2,0.5],[30,0.2,0.9],[31,-0.3,0.35],[46,0.1,1.0]],
 [[0,-0.1,0.45],[18,0.5,1.2],[38,0.05,0.35],[45,-0.2,0.7]],
 [[0,-0.6,0.3],[2,-0.5,0.3],[4,-0.65,0.35],[6,-0.7,0.5],[8,-0.4,0.3],[10,-0.4,0.3],[12,-0.35,0.4],[14,-0.4,0.3],[16,-0.4,0.3],[17,-0.3,0.4],[19,-0.4,0.3],[21,-0.4,0.35],[24,-0.35,0.3],[26,-0.4,0.35],[28,-0.35,0.3],[30,-0.3,0.3],[32,-0.25,0.35],[34,-0.2,0.35],[35,-0.2,0.4],[37,-0.2,0.35],[40,-0.2,0.4],[43,-0.2,0.4],[45,-0.25,0.4],[47,-0.45,0.6]],
 [[0,-0.3,0.8],[2,-0.2,0.6],[4,-0.1,0.8],[5,0.0,1.0],[7,0.3,1.4],[9,0.8,1.9],[10,0.9,2.0],[12,0.6,1.6],[14,0.5,1.5],[16,0.3,1.4],[18,0.0,1.2],[19,0.0,1.0],[21,-0.2,1.1],[22,0.2,1.5],[24,0.2,1.6],[26,0.2,1.6],[28,0.2,1.5],[30,0.25,1.5],[32,0.0,1.1],[33,0.0,1.1],[35,0.0,1.2],[37,0.1,1.1],[40,0.0,0.9],[43,-0.05,0.75],[46,-0.1,0.5],[47,-0.1,0.35]],
 [[0,-0.3,0.3],[2,-0.2,0.2],[16,-0.1,0.55],[18,-0.1,0.6],[20,-0.15,0.6],[22,-0.1,0.65],[25,-0.05,0.7],[27,-0.05,0.65],[30,-0.1,0.4],[31,-0.15,0.2],[32,-0.05,0.15],[42,-0.15,0.55],[44,-0.2,0.6],[47,-0.2,0.6]],
 [[1,-0.9,0.8],[2,-0.85,0.5],[3,-0.9,0.4],[4,-0.8,0.3],[6,-0.6,0.3],[7,-0.5,0.4],[8,-0.4,0.35],[9,-0.5,0.1],[11,-0.4,0.0],[12,-0.5,0.1],[14,-0.6,-0.1],[17,-0.7,0.0],[18,-0.65,-0.1],[20,-0.6,-0.1],[22,-0.6,-0.15],[23,-0.6,-0.1],[25,-0.5,0.0],[27,-0.4,0.05],[29,-0.4,0.15],[31,-0.5,0.0],[32,-0.6,-0.1],[34,-0.6,0.1],[35,-0.6,0.15],[38,-0.5,0.25],[40,-0.45,0.35],[41,-0.45,0.3],[43,-0.4,0.35],[45,-0.3,0.35],[47,-0.3,0.35]],
 [[0,0.1,0.55],[4,0.0,0.55],[8,0.0,0.55],[12,0.05,0.5],[16,0.05,0.45],[17,0.08,0.45],[19,0.1,0.45],[22,0.05,0.45],[24,0.05,0.45],[26,0.05,0.5],[30,0.05,0.45],[34,0.05,0.45],[35,0.05,0.45],[37,0.0,0.4],[40,-0.05,0.35],[44,-0.05,0.3],[45,-0.05,0.3],[47,0.1,0.35]],
 [[1,-0.09,0.52],[2,-0.08,0.52],[3,-0.08,0.5],[4,-0.08,0.45],[6,-0.07,0.25],[8,-0.08,0.5],[9,-0.08,0.35],[11,-0.08,0.5],[12,-0.08,0.3],[14,-0.07,0.25],[17,-0.1,0.55],[18,-0.1,0.5],[20,-0.09,0.52],[21,-0.09,0.48],[22,-0.09,0.45],[23,-0.08,0.35],[25,-0.1,0.5],[26,-0.1,0.55],[27,-0.09,0.45],[29,-0.08,0.35],[31,-0.09,0.4],[32,-0.08,0.35],[34,-0.09,0.3],[35,-0.08,0.3],[38,-0.09,0.35],[39,-0.08,0.3],[40,-0.08,0.32],[41,-0.08,0.3],[43,-0.09,0.42],[44,-0.09,0.38],[45,-0.08,0.3],[46,-0.08,0.25],[47,-0.07,0.15]],
 [[0,-0.5,0.0],[1,-0.35,-0.05],[2,-0.4,-0.1],[4,-0.75,-0.2],[6,-0.7,-0.3],[8,-0.65,-0.3],[10,-0.6,-0.2],[12,-0.6,-0.1],[14,-0.55,-0.05],[16,-0.55,-0.05],[18,-0.6,-0.1],[20,-0.55,-0.05],[22,-0.55,-0.05],[24,-0.5,-0.05],[26,-0.55,0.0],[28,-0.6,0.0],[30,-0.6,0.0],[32,-0.55,0.05],[34,-0.5,0.1],[36,-0.45,0.15],[38,-0.4,0.2],[40,-0.35,0.25],[42,-0.35,0.3],[44,-0.35,0.3],[46,-0.35,0.25],[47,-0.35,0.25]],
 [[0,-0.1,0.68],[1,-0.1,0.7],[2,-0.05,0.6],[4,-0.1,0.95],[5,-0.1,1.0],[6,-0.1,1.05],[7,-0.1,1.05],[8,-0.12,1.15],[9,-0.12,1.2],[10,-0.1,1.25],[12,-0.15,1.05],[13,-0.15,0.95],[15,-0.15,1.0],[17,-0.15,1.0],[19,-0.15,0.85],[21,-0.15,0.95],[23,-0.15,0.8],[24,-0.15,0.75],[26,-0.18,0.9],[28,-0.2,0.85],[30,-0.2,0.7],[32,-0.2,0.6],[34,-0.25,0.65],[36,-0.22,0.5],[38,-0.25,0.55],[40,-0.25,0.55],[42,-0.25,0.45],[44,-0.27,0.3],[45,-0.25,0.2],[47,-0.25,0.05]],
 [[0,-0.1,1.1],[2,0.0,0.9],[4,-0.2,1.3],[6,-0.25,1.3],[8,-0.1,1.2],[10,-0.2,1.4],[12,-0.2,0.9],[14,-0.2,0.8],[16,-0.2,0.6],[17,-0.2,0.6],[19,-0.2,0.55],[22,-0.2,0.6],[25,-0.1,0.6],[28,-0.15,0.55],[30,-0.2,0.6],[32,-0.2,0.55],[34,-0.2,0.5],[35,-0.2,0.5],[37,-0.15,0.45],[40,-0.2,0.45],[44,-0.2,0.45],[45,-0.2,0.45],[47,-0.2,0.3]],
 [[0,-0.8,0.15],[2,-0.7,0.2],[4,-0.65,0.25],[6,-0.65,0.15],[8,-0.55,0.2],[10,-0.5,0.2],[12,-0.45,0.2],[14,-0.45,0.25],[16,-0.35,0.2],[18,-0.45,0.25],[20,-0.4,0.25],[22,-0.35,0.25],[24,-0.4,0.25],[26,-0.35,0.3],[28,-0.3,0.3],[30,-0.3,0.4],[32,-0.25,0.35],[34,-0.2,0.35],[36,-0.25,0.35],[38,-0.2,0.35],[40,-0.2,0.35],[42,-0.25,0.3],[44,-0.25,0.35],[47,-0.2,0.35]],
 [[0,-0.2,0.15],[1,-0.3,0.2],[2,-0.55,0.25],[4,-0.45,0.28],[5,-0.4,0.25],[6,-0.35,0.2],[8,-0.2,0.1],[9,-0.15,0.2],[10,-0.1,0.3],[11,-0.1,0.4],[13,-0.1,0.45],[14,0.0,0.45],[15,0.0,0.5],[16,0.0,0.55],[17,0.05,0.65],[18,0.1,0.8],[22,0.3,0.65],[26,0.1,0.5],[28,-0.1,0.45],[29,-0.1,0.42],[30,-0.1,0.4],[32,-0.1,0.35],[33,-0.08,0.38],[34,-0.05,0.4],[36,-0.2,0.3],[37,-0.2,0.25],[38,-0.2,0.2],[40,-0.2,0.25],[41,-0.18,0.25],[42,-0.15,0.25],[44,-0.2,0.2],[45,-0.18,0.22],[46,-0.15,0.25]],
 [[0,-0.2,1.0],[2,-0.15,0.8],[4,-0.1,1.0],[5,-0.1,1.35],[6,-0.05,1.3],[7,-0.1,1.4],[9,-0.1,1.35],[10,-0.05,1.3],[12,-0.05,0.95],[13,0.0,1.0],[14,0.0,1.05],[16,0.1,1.2],[18,0.1,1.25],[20,0.05,1.2],[22,0.1,1.2],[24,0.05,1.15],[26,-0.15,1.05],[28,-0.1,1.0],[30,-0.1,0.95],[32,-0.15,0.95],[34,-0.15,0.95],[36,-0.2,0.75],[38,-0.25,0.7],[40,-0.25,0.6],[42,-0.3,0.55],[44,-0.3,0.4],[47,-0.3,0.2]],
 [[0,-0.18,0.52],[1,-0.2,0.48],[2,-0.1,0.4],[4,-0.15,0.58],[5,-0.15,0.6],[6,-0.1,0.55],[8,-0.1,0.45],[10,-0.1,0.5],[12,-0.25,0.5],[14,-0.3,0.45],[16,-0.3,0.45],[18,-0.3,0.45],[20,-0.3,0.45],[22,-0.25,0.5],[24,-0.3,0.5],[26,-0.2,0.5],[28,-0.25,0.45],[30,-0.25,0.5],[32,-0.3,0.45],[34,-0.3,0.35],[36,-0.3,0.35],[38,-0.3,0.4],[40,-0.3,0.45],[42,-0.3,0.45],[44,-0.3,0.3],[45,-0.3,0.25],[47,-0.3,0.2]],
 [[0,-0.4,0.15],[1,-0.5,0.1],[2,-0.6,-0.1],[4,-0.9,-0.2],[5,-0.9,-0.1],[6,-0.95,0.3],[8,-0.85,-0.2],[10,-0.85,-0.3],[12,-0.9,-0.15],[14,-0.9,-0.2],[16,-0.9,-0.15],[17,-0.85,0.1],[19,-0.9,-0.2],[21,-0.85,-0.25],[23,-0.9,-0.2],[24,-0.85,-0.2],[26,-0.85,-0.2],[28,-0.85,-0.2],[30,-0.85,-0.2],[32,-0.85,-0.15],[34,-0.75,-0.15],[36,-0.7,-0.05],[38,-0.7,-0.05],[40,-0.65,0.0],[42,-0.55,0.0],[44,-0.45,0.0],[45,-0.4,0.0],[47,-0.4,0.0]],
 [[0,-0.35,0.95],[1,-0.35,1.0],[2,-0.3,0.95],[4,-0.25,0.6],[5,-0.3,1.1],[6,-0.3,1.2],[8,-0.4,0.85],[9,-0.35,0.65],[10,-0.3,0.7],[12,-0.4,0.6],[14,-0.4,0.7],[16,-0.45,0.6],[17,-0.4,0.55],[19,-0.45,0.5],[20,-0.45,0.55],[22,-0.45,0.55],[24,-0.4,0.7],[26,-0.45,0.5],[28,-0.5,0.55],[30,-0.55,0.5],[32,-0.5,0.35],[34,-0.5,0.3],[35,-0.5,0.25],[37,-0.45,0.2],[39,-0.45,0.3],[41,-0.45,0.35],[43,-0.42,0.7],[45,-0.4,0.6],[47,-0.4,0.45]],
 [[0,-0.2,0.75],[2,-0.2,0.75],[4,-0.15,0.75],[6,-0.15,0.65],[8,-0.2,0.6],[10,-0.3,0.65],[12,-0.3,0.55],[14,-0.35,0.55],[16,-0.35,0.5],[18,-0.4,0.45],[20,-0.45,0.5],[22,-0.5,0.5],[24,-0.45,0.45],[26,-0.45,0.45],[28,-0.4,0.5],[30,-0.35,0.45],[32,-0.35,0.5],[34,-0.35,0.5],[36,-0.3,0.55],[38,-0.25,0.6],[40,-0.25,0.65],[42,-0.25,0.7],[44,-0.25,0.7],[47,-0.2,0.65]],
 [[0,-0.1,0.25],[2,-0.15,0.3],[4,-0.3,0.2],[6,-0.4,0.3],[8,-0.3,0.25],[10,-0.3,0.25],[12,-0.25,0.25],[14,-0.25,0.25],[16,-0.3,0.25],[17,-0.3,0.25],[19,-0.3,0.25],[22,-0.35,0.3],[24,-0.35,0.35],[26,-0.3,0.35],[30,-0.3,0.35],[34,-0.3,0.35],[38,-0.3,0.35],[42,-0.3,0.35],[45,-0.25,0.3],[47,-0.2,0.3]],
 [[0,-0.2,0.4],[2,-0.3,0.3],[4,-0.3,0.3],[6,-0.25,0.3],[8,-0.1,0.55],[10,-0.05,0.55],[12,0.0,0.6],[14,0.05,0.65],[16,0.05,0.65],[17,0.1,0.6],[19,0.0,0.6],[21,0.0,0.65],[23,0.0,0.65],[24,0.0,0.6],[26,0.1,0.6],[28,0.05,0.6],[30,0.05,0.55],[32,0.0,0.55],[34,0.0,0.55],[35,0.0,0.55],[37,0.0,0.6],[40,0.0,0.6],[43,0.0,0.6],[45,0.0,0.55],[47,0.0,0.6]],
 [[0,-0.6,0.0],[1,-0.65,-0.15],[2,-0.7,-0.3],[3,-0.8,-0.45],[4,-0.9,-0.5],[5,-0.95,-0.5],[6,-1.0,-0.55],[7,-0.85,-0.5],[8,-0.9,-0.5],[9,-0.9,-0.55],[10,-0.95,-0.55],[11,-0.95,-0.6],[16,-1.15,-0.65],[21,-1.25,-0.8],[24,-1.2,-0.65],[31,-1.8,-0.75],[33,-1.6,-1.0]],
 [[1,0.3,2.5],[3,0.3,2.5],[4,0.3,2.45],[5,1.0,2.5],[7,0.3,2.45],[8,0.3,2.3],[9,0.5,2.2],[10,1.0,2.1],[12,0.4,1.9],[14,0.2,1.0],[16,-0.1,0.9],[17,-0.15,0.9],[18,0.1,1.0],[19,0.3,1.0],[21,-0.1,0.8],[22,-0.15,0.7],[24,-0.1,0.8],[25,-0.05,0.8],[27,-0.1,0.7],[28,-0.2,0.75],[29,0.0,0.75],[31,-0.2,0.6],[32,-0.15,0.6],[33,-0.1,0.65],[34,0.0,0.75],[36,-0.2,0.8],[37,-0.3,0.75],[38,-0.25,0.5],[40,-0.1,0.55],[41,-0.3,0.4],[42,-0.3,0.35],[43,-0.1,0.6],[45,-0.2,0.7],[47,-0.25,0.55]],
 [[0,-0.15,0.8],[1,-0.3,0.7],[2,-0.3,0.5],[4,-0.35,0.75],[5,-0.3,0.8],[6,-0.35,0.75],[8,-0.3,0.5],[9,-0.2,0.55],[10,-0.35,0.55],[12,-0.3,0.55],[13,-0.25,0.55],[14,-0.2,0.55],[15,-0.3,0.55],[16,-0.2,0.55],[17,-0.3,0.55],[19,-0.25,0.55],[20,-0.15,0.6],[22,-0.2,0.55],[24,-0.15,0.55],[26,-0.1,0.55],[28,-0.1,0.5],[30,-0.1,0.55],[32,-0.1,0.55],[34,-0.1,0.55],[35,-0.05,0.55],[37,-0.1,0.45],[39,-0.15,0.45],[41,-0.2,0.45],[43,-0.15,0.4],[45,-0.1,0.45],[47,-0.1,0.45]],
 [[0,-0.4,0.6],[1,-0.5,0.55],[2,-0.6,0.5],[4,-0.95,0.35],[5,-0.9,0.0],[6,-1.0,-0.1],[8,-1.2,-0.4],[9,-1.2,-0.5],[10,-1.25,-0.55],[11,-1.3,-0.5],[12,-1.3,-0.4],[13,-1.3,-0.4],[14,-1.25,-0.5],[16,-1.35,-0.45],[17,-1.3,-0.35],[18,-1.3,-0.35],[19,-1.3,-0.4],[20,-1.25,-0.4],[21,-1.25,-0.45],[22,-1.2,-0.55],[24,-1.15,-0.8],[25,-1.2,-0.8],[26,-1.15,-0.85],[28,-1.15,-0.8],[29,-1.2,-0.85],[30,-1.15,-0.85],[32,-1.1,-0.8],[33,-1.0,-0.55],[34,-0.9,-0.4],[35,-0.8,-0.4],[37,-1.1,-0.5],[38,-1.05,-0.55],[39,-1.1,-0.5],[41,-1.1,-0.3],[43,-1.1,-0.2],[44,-1.05,-0.15],[45,-1.0,-0.15],[46,-0.95,-0.2]],
 [[0,-0.4,0.05],[4,-0.45,0.0],[8,-0.55,-0.05],[12,-0.6,-0.15],[16,-0.6,-0.2],[20,-0.65,-0.15],[24,-0.65,-0.15],[28,-0.6,-0.15],[32,-0.55,-0.1],[36,-0.5,-0.05],[40,-0.45,0.0],[44,-0.4,0.05],[47,-0.35,0.1]],
 [[0,-1.9,0.05],[6,-1.5,-0.7],[10,-1.0,-0.6],[13,-1.4,-1.2],[16,-0.8,0.0],[17,-0.7,-0.05],[18,-0.7,-0.1],[19,-0.8,-0.3],[20,-0.9,-0.5],[22,-0.9,-0.2],[23,-0.75,-0.05],[24,-0.7,-0.1],[25,-0.65,-0.1],[26,-0.6,-0.1],[27,-0.55,-0.1],[28,-0.65,-0.2],[29,-0.75,-0.3],[30,-1.0,-0.5],[33,-1.1,-0.4],[36,-1.05,-0.2],[38,-1.0,-0.5],[41,-0.8,-0.2],[42,-0.7,-0.05],[43,-0.65,0.0],[44,-0.6,0.05],[45,-0.55,0.05],[46,-0.55,0.05],[47,-0.55,0.0]],
 [[0,-0.1,0.5],[1,0.0,0.7],[2,0.2,0.9],[4,0.1,0.75],[5,0.05,0.8],[6,0.3,0.8],[8,0.1,0.8],[9,0.05,0.75],[10,0.1,0.8],[12,0.1,0.75],[14,0.1,0.7],[16,0.15,0.7],[17,0.15,0.7],[19,0.15,0.7],[21,0.1,0.65],[23,0.1,0.65],[24,0.1,0.6],[26,0.05,0.7],[28,0.05,0.7],[30,0.05,0.75],[32,0.05,0.75],[34,0.05,0.75],[35,0.1,0.7],[37,-0.05,0.45],[39,-0.1,0.45],[41,-0.1,0.4],[43,-0.1,0.4],[45,-0.15,0.35],[47,-0.15,0.3]],
 [[0,-0.25,0.0],[1,-0.45,-0.1],[2,-0.55,-0.1],[3,-0.5,-0.15],[4,-0.55,-0.2],[5,-0.55,-0.2],[6,-0.5,-0.2],[7,-0.45,-0.15],[8,-0.45,-0.15],[9,-0.5,-0.15],[10,-0.5,-0.1],[11,-0.45,-0.05],[33,-0.3,0.0],[38,-0.35,-0.05]],
 [[0,-0.1,0.3],[4,-0.05,0.3],[8,-0.05,0.35],[10,-0.05,0.45],[12,-0.05,0.35],[16,-0.1,0.3],[20,-0.1,0.25],[24,-0.15,0.25],[28,-0.15,0.2],[32,-0.15,0.2],[36,-0.15,0.2],[40,-0.15,0.15],[44,-0.15,0.15],[47,-0.15,0.15]],
 [[1,-0.9,0.85],[2,-0.6,0.75],[3,-0.6,0.8],[4,-0.55,0.7],[6,-0.2,0.6],[8,-0.3,0.45],[9,-0.3,0.4],[11,-0.35,0.35],[12,-0.3,0.3],[14,-0.6,0.1],[17,-0.8,0.1],[18,-0.7,0.1],[20,-0.55,0.05],[21,-0.5,0.1],[22,-0.5,0.05],[23,-0.45,0.05],[24,-0.45,0.05],[25,-0.5,0.1],[26,-0.45,0.1],[27,-0.5,0.0],[29,-0.5,0.1],[31,-0.55,0.1],[32,-0.5,0.2],[34,-0.45,-0.05],[35,-0.45,0.15],[37,-0.4,0.2],[38,-0.45,0.2],[39,-0.4,0.15],[40,-0.45,0.1],[41,-0.45,0.0],[43,-0.35,0.2],[44,-0.4,0.2],[45,-0.45,0.2],[46,-0.4,0.2],[47,-0.35,0.2]],
 [[0,-0.2,0.3],[1,-0.25,0.25],[2,-0.3,0.2],[3,-0.25,0.25],[4,-0.2,0.2],[6,-0.1,0.2],[8,-0.1,0.25],[10,-0.1,0.25],[12,-0.15,0.2],[14,-0.15,0.15],[16,-0.25,0.1],[17,-0.3,0.1],[19,-0.25,0.1],[20,-0.25,0.1],[22,-0.25,0.05],[24,-0.25,0.05],[26,-0.25,0.1],[28,-0.25,0.1],[30,-0.25,0.05],[32,-0.2,0.15],[34,-0.2,0.1],[35,-0.25,0.05],[37,-0.2,0.15],[38,-0.2,0.15],[40,-0.2,0.15],[42,-0.2,0.15],[44,-0.2,0.15],[46,-0.2,0.15],[47,-0.2,0.15]],
 [[0,-0.15,-0.05],[1,-0.5,0.35],[3,-0.65,0.15],[10,-0.6,0.15],[11,-0.65,-0.3],[12,-0.6,-0.3],[15,-0.6,0.15],[20,-0.6,0.15],[32,-0.6,0.0],[36,-0.6,0.4],[38,-0.6,0.4],[41,-0.6,0.5],[45,-0.6,0.4],[46,-0.6,0.1]],
 [[0,-0.55,0.2],[1,-0.9,-0.4],[15,-0.55,-0.1],[16,-0.6,0.15],[17,-0.55,0.2],[18,-0.45,0.1],[19,-0.45,0.0],[20,-0.4,0.0],[22,-0.3,0.3],[23,-0.4,0.35],[24,-0.45,0.3],[25,-0.4,0.35],[26,-0.45,0.3],[27,-0.35,0.35],[28,-0.4,0.3],[29,-0.4,0.2],[30,-0.35,0.2],[31,-0.5,-0.2],[42,-0.3,0.3],[43,-0.35,0.4],[44,-0.35,0.3],[45,-0.3,0.4],[46,-0.3,0.35],[47,-0.3,0.2]],
 [[0,-0.1,0.95],[1,-0.15,0.95],[2,-0.2,0.8],[4,-0.2,0.6],[5,-0.1,1.1],[6,-0.2,0.6],[8,-0.15,0.6],[9,-0.3,0.7],[10,-0.2,0.6],[12,-0.05,0.8],[13,0.0,0.8],[14,0.05,0.75],[15,0.05,0.6],[16,0.1,0.75],[17,0.1,0.65],[19,-0.05,0.8],[20,-0.15,0.9],[21,-0.05,0.85],[22,-0.1,0.7],[23,0.0,0.95],[24,0.05,0.75],[26,-0.35,0.65],[27,-0.4,0.55],[28,-0.35,0.75],[29,-0.3,0.55],[30,-0.35,0.5],[31,-0.35,0.45],[32,-0.4,0.45],[33,-0.35,0.5],[34,-0.4,0.4],[35,-0.4,0.45],[36,-0.35,0.35],[37,-0.4,0.4],[38,-0.35,0.45],[39,-0.35,0.4],[40,-0.35,0.45],[41,-0.35,0.4],[42,-0.35,0.35],[43,-0.35,0.35],[44,-0.35,0.4],[45,-0.35,0.5],[47,-0.45,0.3]],
 [[0,-0.1,0.55],[1,-0.1,0.6],[2,-0.1,0.8],[4,-0.1,1.0],[5,-0.1,0.95],[6,-0.1,0.9],[7,-0.1,0.85],[8,-0.1,0.8],[9,-0.1,0.7],[10,-0.1,0.75],[12,-0.2,0.7],[13,-0.2,0.75],[14,-0.2,0.75],[15,-0.15,0.7],[16,-0.2,0.75],[17,-0.25,0.8],[18,-0.2,0.75],[19,-0.2,0.7],[20,-0.2,0.75],[21,-0.15,0.7],[22,-0.2,0.7],[23,-0.2,0.78],[24,-0.15,0.7],[26,-0.15,0.75],[27,-0.1,0.75],[28,-0.15,0.7],[30,-0.2,0.6],[32,-0.25,0.55],[33,-0.2,0.6],[34,-0.25,0.7],[36,-0.25,0.6],[38,-0.25,0.5],[40,-0.25,0.5],[42,-0.3,0.45],[44,-0.3,0.4],[45,-0.3,0.3],[47,-0.5,0.3]]
];

const xTicks = [0, 10, 20, 30, 40];
const yLabel = "value";

// ---------- LAYOUT ----------
const COLS = [72, 421, 770, 1119];
const ROW0 = 7, ROWSTEP = 221.4, PW = 291, PH = 185;
const ML = 62, MR = 12, MT = 10, MB = 34;

function toPairs(k) {
  return k.length && typeof k[0] === "number" ? k.map((v, i) => [i, v]) : k;
}
function mergeLine(knots, obs) {
  const m = new Map();
  toPairs(knots).forEach(([x, y]) => m.set(x, y));
  obs.forEach(([x, y]) => m.set(x, y));
  return [...m].sort((a, b) => a[0] - b[0]).map(([x, y]) => ({x, y}));
}
function mergeBand(knots, obs) {
  const m = new Map();
  knots.forEach(([x, lo, hi]) => m.set(x, [lo, hi]));
  obs.forEach(([x, y]) => m.set(x, [y, y]));
  return [...m].sort((a, b) => a[0] - b[0]).map(([x, [lo, hi]]) => ({x, lo, hi}));
}

const fig = document.getElementById("fig");
for (let i = 0; i < yDomains.length; i++) {
  const row = Math.floor(i / 4), col = i % 4;
  const obs = observed[i];
  const gLine = mergeLine(greenMedian[i], obs);
  const gBand = mergeBand(greenBand[i], obs);
  const kLine = mergeLine(grayMedian[i], obs);
  const kBand = mergeBand(grayBand[i], obs);
  const obsPts = obs.map(([x, y]) => ({x, y}));
  const bluePts = heldOut[i].map(([x, y]) => ({x, y}));
  const dec = yDecimals[i];
  const svg = Plot.plot({
    width: PW + ML + MR, height: PH + MT + MB,
    marginLeft: ML, marginRight: MR, marginTop: MT, marginBottom: MB,
    style: {fontFamily: "'DejaVu Sans', sans-serif", fontSize: "14.5px", color: "black", background: "transparent", overflow: "visible"},
    x: {domain: [-2.35, 49.35], ticks: xTicks, tickSize: 5, tickPadding: 4.5, label: null, tickFormat: d => String(d)},
    y: {domain: yDomains[i], ticks: yTicks[i], tickSize: 5, tickPadding: 4.5, label: null, tickFormat: d3.format(`.${dec}f`)},
    marks: [
      Plot.areaY(gBand, {x: "x", y1: "lo", y2: "hi", fill: "#008000", fillOpacity: 0.3, clip: true}),
      Plot.areaY(kBand, {x: "x", y1: "lo", y2: "hi", fill: "#808080", fillOpacity: 0.3, clip: true}),
      Plot.line(kLine, {x: "x", y: "y", stroke: "#808080", strokeWidth: 1.6, strokeDasharray: "5.5,2.4", clip: true}),
      Plot.line(gLine, {x: "x", y: "y", stroke: "#008000", strokeWidth: 1.5, clip: true}),
      Plot.dot(obsPts, {x: "x", y: "y", symbol: "times", r: 4, stroke: "red", strokeWidth: 1}),
      Plot.dot(bluePts, {x: "x", y: "y", r: 4.2, fill: "blue", stroke: "none"}),
      Plot.frame({stroke: "black", strokeWidth: 1})
    ]
  });
  svg.style.position = "absolute";
  svg.style.left = (COLS[col] - ML) + "px";
  svg.style.top = (ROW0 + row * ROWSTEP - MT) + "px";
  if (col === 0) {
    d3.select(svg).append("text")
      .attr("transform", `translate(${ML - 46},${MT + PH / 2}) rotate(-90)`)
      .attr("text-anchor", "middle")
      .attr("dominant-baseline", "middle")
      .attr("font-size", "15px")
      .attr("fill", "black")
      .text(yLabel);
  }
  fig.appendChild(svg);
}
</script>
</body></html>
